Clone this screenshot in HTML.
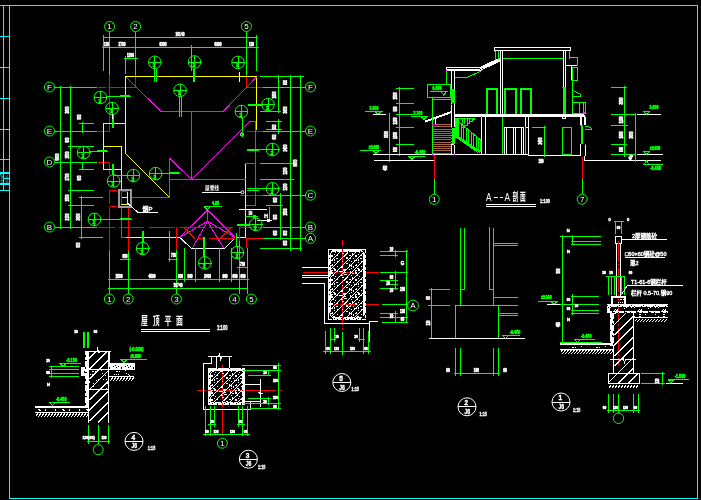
<!DOCTYPE html>
<html><head><meta charset="utf-8"><title>CAD</title>
<style>
html,body{margin:0;padding:0;background:#000;}
svg{display:block;will-change:transform;}
text{font-family:"Liberation Sans","Noto Sans CJK SC",sans-serif;}
</style></head><body>
<svg width="701" height="500" viewBox="0 0 701 500" shape-rendering="crispEdges" fill="none">
<rect x="0" y="0" width="701" height="500" fill="#000" stroke="none"/>
<path d="M0.0 5.5H698.0" stroke="#00ffff" stroke-width="1"/>
<path d="M9.0 498.5H698.0" stroke="#00ffff" stroke-width="1"/>
<path d="M697.5 5.0V499.0" stroke="#00ffff" stroke-width="1"/>
<path d="M9.5 5.0V499.0" stroke="#00ffff" stroke-width="1"/>
<path d="M3.5 5.0V191.0" stroke="#00ffff" stroke-width="1"/>
<path d="M0.0 36.5H10.0" stroke="#00ffff" stroke-width="1"/>
<path d="M0.0 67.5H10.0" stroke="#00ffff" stroke-width="1"/>
<path d="M0.0 98.5H10.0" stroke="#00ffff" stroke-width="1"/>
<path d="M0.0 129.5H10.0" stroke="#00ffff" stroke-width="1"/>
<path d="M0.0 159.5H10.0" stroke="#00ffff" stroke-width="1"/>
<path d="M0.0 190.5H10.0" stroke="#00ffff" stroke-width="1"/>
<path d="M0.0 173H9.0" stroke="#00ffff" stroke-width="2"/>
<path d="M3.0 178.5H9.0" stroke="#00ffff" stroke-width="1"/>
<path d="M0.0 184H9.0" stroke="#00ffff" stroke-width="2"/>
<rect x="5.5" y="172.0" width="2.0" height="2.0" stroke="#00ffff" stroke-width="0" fill="#00ffff"/>
<rect x="0.0" y="173.0" width="1.0" height="2.0" stroke="#00ffff" stroke-width="0" fill="#00ffff"/>
<text transform="translate(8 183) rotate(-90) scale(1 0.5)" font-size="4" fill="#00ffff">图纸</text>
<text transform="translate(2.5 183) rotate(-90) scale(1 0.5)" font-size="4" fill="#00ffff">建施</text>
<circle cx="109.6" cy="26.5" r="5" stroke="#00ff00" stroke-width="1" fill="none" shape-rendering="geometricPrecision"/>
<text x="109.6" y="29.4" font-size="8" fill="#ffffff" text-anchor="middle" font-weight="normal">1</text>
<circle cx="135.6" cy="26.5" r="5" stroke="#00ff00" stroke-width="1" fill="none" shape-rendering="geometricPrecision"/>
<text x="135.6" y="29.4" font-size="8" fill="#ffffff" text-anchor="middle" font-weight="normal">2</text>
<circle cx="246.4" cy="26.5" r="5" stroke="#00ff00" stroke-width="1" fill="none" shape-rendering="geometricPrecision"/>
<text x="246.4" y="29.4" font-size="8" fill="#ffffff" text-anchor="middle" font-weight="normal">5</text>
<circle cx="49.5" cy="87.0" r="5" stroke="#00ff00" stroke-width="1" fill="none" shape-rendering="geometricPrecision"/>
<text x="49.5" y="89.9" font-size="8" fill="#ffffff" text-anchor="middle" font-weight="normal">F</text>
<circle cx="49.5" cy="131.0" r="5" stroke="#00ff00" stroke-width="1" fill="none" shape-rendering="geometricPrecision"/>
<text x="49.5" y="133.9" font-size="8" fill="#ffffff" text-anchor="middle" font-weight="normal">E</text>
<circle cx="49.5" cy="162.0" r="5" stroke="#00ff00" stroke-width="1" fill="none" shape-rendering="geometricPrecision"/>
<text x="49.5" y="164.9" font-size="8" fill="#ffffff" text-anchor="middle" font-weight="normal">D</text>
<circle cx="49.5" cy="227.0" r="5" stroke="#00ff00" stroke-width="1" fill="none" shape-rendering="geometricPrecision"/>
<text x="49.5" y="229.9" font-size="8" fill="#ffffff" text-anchor="middle" font-weight="normal">B</text>
<circle cx="310.5" cy="87.0" r="5" stroke="#00ff00" stroke-width="1" fill="none" shape-rendering="geometricPrecision"/>
<text x="310.5" y="89.9" font-size="8" fill="#ffffff" text-anchor="middle" font-weight="normal">F</text>
<circle cx="310.5" cy="131.0" r="5" stroke="#00ff00" stroke-width="1" fill="none" shape-rendering="geometricPrecision"/>
<text x="310.5" y="133.9" font-size="8" fill="#ffffff" text-anchor="middle" font-weight="normal">E</text>
<circle cx="310.5" cy="195.2" r="5" stroke="#00ff00" stroke-width="1" fill="none" shape-rendering="geometricPrecision"/>
<text x="310.5" y="198.1" font-size="8" fill="#ffffff" text-anchor="middle" font-weight="normal">C</text>
<circle cx="310.5" cy="227.0" r="5" stroke="#00ff00" stroke-width="1" fill="none" shape-rendering="geometricPrecision"/>
<text x="310.5" y="229.9" font-size="8" fill="#ffffff" text-anchor="middle" font-weight="normal">B</text>
<circle cx="310.5" cy="238.3" r="5" stroke="#00ff00" stroke-width="1" fill="none" shape-rendering="geometricPrecision"/>
<text x="310.5" y="241.2" font-size="8" fill="#ffffff" text-anchor="middle" font-weight="normal">A</text>
<circle cx="109.4" cy="299.0" r="5" stroke="#00ff00" stroke-width="1" fill="none" shape-rendering="geometricPrecision"/>
<text x="109.4" y="301.9" font-size="8" fill="#ffffff" text-anchor="middle" font-weight="normal">1</text>
<circle cx="128.2" cy="299.0" r="5" stroke="#00ff00" stroke-width="1" fill="none" shape-rendering="geometricPrecision"/>
<text x="128.2" y="301.9" font-size="8" fill="#ffffff" text-anchor="middle" font-weight="normal">2</text>
<circle cx="176.4" cy="299.0" r="5" stroke="#00ff00" stroke-width="1" fill="none" shape-rendering="geometricPrecision"/>
<text x="176.4" y="301.9" font-size="8" fill="#ffffff" text-anchor="middle" font-weight="normal">3</text>
<circle cx="234.4" cy="299.0" r="5" stroke="#00ff00" stroke-width="1" fill="none" shape-rendering="geometricPrecision"/>
<text x="234.4" y="301.9" font-size="8" fill="#ffffff" text-anchor="middle" font-weight="normal">4</text>
<circle cx="251.4" cy="299.0" r="5" stroke="#00ff00" stroke-width="1" fill="none" shape-rendering="geometricPrecision"/>
<text x="251.4" y="301.9" font-size="8" fill="#ffffff" text-anchor="middle" font-weight="normal">5</text>
<path d="M103.0 37.5H258.0" stroke="#00ff00" stroke-width="1"/>
<path d="M101.6 47.5H259.0" stroke="#00ff00" stroke-width="1"/>
<path d="M103.5 35.0V71.0" stroke="#00ff00" stroke-width="1"/>
<path d="M256.5 35.0V71.0" stroke="#00ff00" stroke-width="1"/>
<path d="M109.5 31.5V75.0" stroke="#00ff00" stroke-width="1"/>
<path d="M135.5 31.5V75.0" stroke="#00ff00" stroke-width="1"/>
<path d="M246.5 31.5V75.0" stroke="#00ff00" stroke-width="1"/>
<path d="M124.4 58.5H138.0" stroke="#00ff00" stroke-width="1"/>
<path d="M125.5 56.0V73.5" stroke="#00ff00" stroke-width="1"/>
<path d="M191.5 45.0V71.0" stroke="#00ff00" stroke-width="1"/>
<text x="180.0" y="36.0" font-size="5" fill="#ffffff" stroke="#ffffff" stroke-width="0.6" text-anchor="middle" font-weight="bold" textLength="8.8" lengthAdjust="spacingAndGlyphs">16140</text>
<text x="106.5" y="46.0" font-size="4.5" fill="#ffffff" stroke="#ffffff" stroke-width="0.6" text-anchor="middle" font-weight="bold" textLength="5.2" lengthAdjust="spacingAndGlyphs">120</text>
<text x="122.0" y="46.0" font-size="5" fill="#ffffff" stroke="#ffffff" stroke-width="0.6" text-anchor="middle" font-weight="bold" textLength="7.0" lengthAdjust="spacingAndGlyphs">2700</text>
<text x="163.0" y="46.0" font-size="5" fill="#ffffff" stroke="#ffffff" stroke-width="0.6" text-anchor="middle" font-weight="bold" textLength="7.0" lengthAdjust="spacingAndGlyphs">6300</text>
<text x="218.0" y="46.0" font-size="5" fill="#ffffff" stroke="#ffffff" stroke-width="0.6" text-anchor="middle" font-weight="bold" textLength="7.0" lengthAdjust="spacingAndGlyphs">6900</text>
<text x="251.5" y="46.0" font-size="4.5" fill="#ffffff" stroke="#ffffff" stroke-width="0.6" text-anchor="middle" font-weight="bold" textLength="5.2" lengthAdjust="spacingAndGlyphs">120</text>
<text x="130.5" y="57.0" font-size="4.5" fill="#ffffff" stroke="#ffffff" stroke-width="0.6" text-anchor="middle" font-weight="bold" textLength="7.0" lengthAdjust="spacingAndGlyphs">1200</text>
<path d="M109.5 75.0V132.0" stroke="#ff0000" stroke-width="1"/>
<path d="M135.5 75.0V87.0" stroke="#ff0000" stroke-width="1"/>
<path d="M246.5 75.0V87.0" stroke="#ff0000" stroke-width="1"/>
<path d="M98.0 87.5H106.0" stroke="#ff0000" stroke-width="1"/>
<path d="M108.0 87.5H136.0" stroke="#ff0000" stroke-width="1"/>
<path d="M246.4 87.5H263.0" stroke="#ff0000" stroke-width="1"/>
<path d="M98.0 131.5H110.0" stroke="#ff0000" stroke-width="1"/>
<path d="M98.0 162.5H110.0" stroke="#ff0000" stroke-width="1"/>
<path d="M109.5 162.0V175.0" stroke="#ff0000" stroke-width="1"/>
<path d="M109.5 190.0V204.0" stroke="#ff0000" stroke-width="1"/>
<path d="M109.5 207.0V250.5" stroke="#ff0000" stroke-width="1"/>
<path d="M109.6 190.5H117.0" stroke="#ff0000" stroke-width="1"/>
<path d="M109.6 206.5H117.0" stroke="#ff0000" stroke-width="1"/>
<path d="M128.5 208.0V250.5" stroke="#ff0000" stroke-width="1"/>
<path d="M247.0 131.5H263.0" stroke="#ff0000" stroke-width="1"/>
<path d="M240.0 195.5H263.0" stroke="#ff0000" stroke-width="1"/>
<path d="M54.5 87.5H97.0" stroke="#00ff00" stroke-width="1"/>
<path d="M54.5 131.5H97.0" stroke="#00ff00" stroke-width="1"/>
<path d="M54.5 162.5H97.0" stroke="#00ff00" stroke-width="1"/>
<path d="M54.5 227.5H97.0" stroke="#00ff00" stroke-width="1"/>
<path d="M60.5 86.0V228.5" stroke="#00ff00" stroke-width="1"/>
<path d="M70.5 86.0V228.5" stroke="#00ff00" stroke-width="1"/>
<path d="M79.0 123.5H94.0" stroke="#00ff00" stroke-width="1"/>
<path d="M82.5 122.0V133.0" stroke="#00ff00" stroke-width="1"/>
<path d="M68.0 146.5H94.0" stroke="#00ff00" stroke-width="1"/>
<path d="M79.0 169.5H94.0" stroke="#00ff00" stroke-width="1"/>
<path d="M82.5 163.0V170.0" stroke="#00ff00" stroke-width="1"/>
<path d="M68.0 190.5H94.0" stroke="#00ff00" stroke-width="1"/>
<path d="M68.0 205.5H94.0" stroke="#00ff00" stroke-width="1"/>
<path d="M81.5 196.0V239.0" stroke="#00ff00" stroke-width="1"/>
<path d="M79.0 197.5H103.0" stroke="#00ff00" stroke-width="1"/>
<path d="M79.0 237.5H103.0" stroke="#00ff00" stroke-width="1"/>
<path d="M90.0 237.5H103.0" stroke="#00ff00" stroke-width="1"/>
<text x="68.5" y="110.0" font-size="5" fill="#ffffff" stroke="#ffffff" stroke-width="0.6" text-anchor="middle" font-weight="bold" textLength="7.0" lengthAdjust="spacingAndGlyphs" transform="rotate(-90 68.5 110.0)">3600</text>
<text x="80.5" y="117.0" font-size="5" fill="#ffffff" stroke="#ffffff" stroke-width="0.6" text-anchor="middle" font-weight="bold" textLength="5.2" lengthAdjust="spacingAndGlyphs" transform="rotate(-90 80.5 117.0)">900</text>
<text x="68.5" y="140.0" font-size="5" fill="#ffffff" stroke="#ffffff" stroke-width="0.6" text-anchor="middle" font-weight="bold" textLength="5.2" lengthAdjust="spacingAndGlyphs" transform="rotate(-90 68.5 140.0)">900</text>
<text x="68.5" y="155.0" font-size="5" fill="#ffffff" stroke="#ffffff" stroke-width="0.6" text-anchor="middle" font-weight="bold" textLength="7.0" lengthAdjust="spacingAndGlyphs" transform="rotate(-90 68.5 155.0)">1500</text>
<text x="58.5" y="157.0" font-size="5" fill="#ffffff" stroke="#ffffff" stroke-width="0.6" text-anchor="middle" font-weight="bold" textLength="7.0" lengthAdjust="spacingAndGlyphs" transform="rotate(-90 58.5 157.0)">9900</text>
<text x="68.5" y="177.0" font-size="5" fill="#ffffff" stroke="#ffffff" stroke-width="0.6" text-anchor="middle" font-weight="bold" textLength="7.0" lengthAdjust="spacingAndGlyphs" transform="rotate(-90 68.5 177.0)">2700</text>
<text x="80.5" y="178.0" font-size="5" fill="#ffffff" stroke="#ffffff" stroke-width="0.6" text-anchor="middle" font-weight="bold" textLength="5.2" lengthAdjust="spacingAndGlyphs" transform="rotate(-90 80.5 178.0)">600</text>
<text x="68.5" y="198.0" font-size="5" fill="#ffffff" stroke="#ffffff" stroke-width="0.6" text-anchor="middle" font-weight="bold" textLength="7.0" lengthAdjust="spacingAndGlyphs" transform="rotate(-90 68.5 198.0)">1500</text>
<text x="68.5" y="217.0" font-size="5" fill="#ffffff" stroke="#ffffff" stroke-width="0.6" text-anchor="middle" font-weight="bold" textLength="7.0" lengthAdjust="spacingAndGlyphs" transform="rotate(-90 68.5 217.0)">2100</text>
<text x="79.5" y="217.0" font-size="5" fill="#ffffff" stroke="#ffffff" stroke-width="0.6" text-anchor="middle" font-weight="bold" textLength="7.0" lengthAdjust="spacingAndGlyphs" transform="rotate(-90 79.5 217.0)">3600</text>
<text x="79.5" y="245.0" font-size="5" fill="#ffffff" stroke="#ffffff" stroke-width="0.6" text-anchor="middle" font-weight="bold" textLength="5.2" lengthAdjust="spacingAndGlyphs" transform="rotate(-90 79.5 245.0)">900</text>
<path d="M125.6 76.5H257.0" stroke="#ffff00" stroke-width="1"/>
<path d="M125.5 76.0V154.0" stroke="#ffff00" stroke-width="1"/>
<path d="M256.5 76.0V130.0" stroke="#ffff00" stroke-width="1"/>
<path d="M103.6 123.5H126.0" stroke="#ffff00" stroke-width="1"/>
<path d="M103.5 123.0V169.5" stroke="#ffff00" stroke-width="1"/>
<path d="M103.6 146.5H122.0" stroke="#ffff00" stroke-width="1"/>
<path d="M121.5 146.0V191.0" stroke="#ffff00" stroke-width="1"/>
<path d="M103.6 169.5H122.0" stroke="#ffff00" stroke-width="1"/>
<path d="M125.6 153.6L169.4 197.4" stroke="#ffff00" stroke-width="1"/>
<path d="M245.5 163.6V238.0" stroke="#ffff00" stroke-width="1"/>
<path d="M121.4 237.5H180.0" stroke="#ffff00" stroke-width="1"/>
<path d="M236.0 237.5H246.0" stroke="#ffff00" stroke-width="1"/>
<path d="M126.0 77.0L161.0 111.5" stroke="#ff00ff" stroke-width="1"/>
<path d="M161.0 111.5H223.0" stroke="#ff00ff" stroke-width="1"/>
<path d="M223.0 111.5L256.6 77.0" stroke="#ff00ff" stroke-width="1"/>
<path d="M191.5 111.0V179.5" stroke="#ff00ff" stroke-width="1"/>
<path d="M191.4 179.5L249.4 121.5" stroke="#ff00ff" stroke-width="1"/>
<path d="M249.4 121.5H256.0" stroke="#ff00ff" stroke-width="1"/>
<path d="M255.5 121.0V206.0" stroke="#ff00ff" stroke-width="1"/>
<path d="M245.4 163.5H256.0" stroke="#ff00ff" stroke-width="1"/>
<path d="M169.4 179.5H245.6" stroke="#ff00ff" stroke-width="1"/>
<path d="M169.5 158.0V198.0" stroke="#ff00ff" stroke-width="1"/>
<path d="M169.4 158.0L191.4 179.5" stroke="#ff00ff" stroke-width="1"/>
<path d="M131.0 197.5H170.0" stroke="#ff00ff" stroke-width="1"/>
<path d="M245.6 205.5H256.0" stroke="#ff00ff" stroke-width="1"/>
<path d="M121.5 207.0V238.0" stroke="#ff00ff" stroke-width="1"/>
<path d="M121.6 237.5H126.0" stroke="#ff00ff" stroke-width="1"/>
<path d="M207.5 210.0L179.7 237.5" stroke="#ff00ff" stroke-width="1"/>
<path d="M207.5 210.0L235.2 237.5" stroke="#ff00ff" stroke-width="1"/>
<path d="M207.5 210.0V221.5" stroke="#ff00ff" stroke-width="1"/>
<path d="M207.5 221.3L192.2 248.3" stroke="#ff00ff" stroke-width="1"/>
<path d="M207.5 221.3L223.8 248.3" stroke="#ff00ff" stroke-width="1"/>
<path d="M207.5 221.3L179.7 237.5" stroke="#ff00ff" stroke-width="1"/>
<path d="M207.5 221.3L235.2 237.5" stroke="#ff00ff" stroke-width="1"/>
<path d="M179.7 237.5L191.7 248.5L224.8 248.5L235.2 237.5" stroke="#ffffff" stroke-width="1" fill="none"/>
<path d="M204.2 206.5L210.5 206.5L207.4 210.0Z" stroke="#00ff00" stroke-width="1" fill="none"/>
<path d="M204.2 206.5H222.0" stroke="#00ff00" stroke-width="1"/>
<text x="215.5" y="204.8" font-size="5" fill="#00ff00" stroke="#00ff00" stroke-width="0.6" text-anchor="middle" font-weight="bold" textLength="7.0" lengthAdjust="spacingAndGlyphs">4.95</text>
<path d="M98.0 227.5H115.0" stroke="#ff0000" stroke-width="1"/>
<path d="M119.0 227.5H144.0" stroke="#ff0000" stroke-width="1"/>
<path d="M149.0 227.5H174.5" stroke="#ff0000" stroke-width="1"/>
<path d="M179.0 227.5H204.0" stroke="#ff0000" stroke-width="1"/>
<path d="M208.8 227.5H232.8" stroke="#ff0000" stroke-width="1"/>
<path d="M238.5 227.5H263.0" stroke="#ff0000" stroke-width="1"/>
<path d="M197.4 238.5H203.0" stroke="#ff0000" stroke-width="1"/>
<path d="M208.8 238.5H235.0" stroke="#ff0000" stroke-width="1"/>
<path d="M246.0 238.5H263.0" stroke="#ff0000" stroke-width="1"/>
<path d="M184.0 227.5L195.0 238.5" stroke="#ff0000" stroke-width="1"/>
<path d="M231.0 227.5L220.0 238.5" stroke="#ff0000" stroke-width="1"/>
<path d="M176.5 227.0V250.0" stroke="#ff0000" stroke-width="1"/>
<path d="M239.5 227.0V248.0" stroke="#ff0000" stroke-width="1"/>
<path d="M246.5 238.0V248.0" stroke="#ff0000" stroke-width="1"/>
<rect x="118.5" y="189.5" width="12.5" height="17.5" stroke="#9a9a9a" stroke-width="2" fill="none"/>
<rect x="121.5" y="191.5" width="6.0" height="12.5" stroke="#ffff00" stroke-width="1" fill="none"/>
<path d="M121.5 197.5H127.5" stroke="#ffff00" stroke-width="1"/>
<path d="M121.5 191.0V204.0" stroke="#ff0000" stroke-width="1"/>
<path d="M121.5 191.5H127.5" stroke="#ff0000" stroke-width="1"/>
<path d="M127.4 203.0L138.0 212.5L158.0 212.5" stroke="#ffffff" stroke-width="1" fill="none"/>
<text x="147.5" y="211.0" font-size="6" fill="#ffffff" stroke="#ffffff" stroke-width="0.4" text-anchor="middle" font-weight="normal">烟P</text>
<text transform="translate(205.0 190.0) scale(0.78 1)" font-size="6" fill="#ffffff" font-weight="bold">屋脊线</text>
<path d="M202.4 192.5H241.0" stroke="#ffffff" stroke-width="1"/>
<circle cx="242.4" cy="192.3" r="1.5" stroke="#ffffff" stroke-width="1" fill="none" shape-rendering="geometricPrecision"/>
<circle cx="242.0" cy="134.5" r="1.5" stroke="#ffffff" stroke-width="1" fill="none" shape-rendering="geometricPrecision"/>
<path d="M260.0 76.5H304.0" stroke="#00ff00" stroke-width="1"/>
<path d="M278.5 75.0V113.0" stroke="#00ff00" stroke-width="1"/>
<path d="M290.5 75.0V250.5" stroke="#00ff00" stroke-width="1"/>
<path d="M300.5 75.0V250.5" stroke="#00ff00" stroke-width="1"/>
<path d="M263.0 87.5H305.5" stroke="#00ff00" stroke-width="1"/>
<path d="M263.0 131.5H305.5" stroke="#00ff00" stroke-width="1"/>
<path d="M263.0 195.5H305.5" stroke="#00ff00" stroke-width="1"/>
<path d="M263.0 227.5H305.5" stroke="#00ff00" stroke-width="1"/>
<path d="M263.0 238.5H305.5" stroke="#00ff00" stroke-width="1"/>
<path d="M260.0 111.5H281.0" stroke="#00ff00" stroke-width="1"/>
<path d="M266.0 121.5H282.0" stroke="#00ff00" stroke-width="1"/>
<path d="M278.5 119.0V134.0" stroke="#00ff00" stroke-width="1"/>
<path d="M266.0 129.5H282.0" stroke="#00ff00" stroke-width="1"/>
<path d="M260.0 163.5H294.0" stroke="#00ff00" stroke-width="1"/>
<path d="M260.0 179.5H294.0" stroke="#00ff00" stroke-width="1"/>
<path d="M280.5 193.0V240.0" stroke="#00ff00" stroke-width="1"/>
<path d="M266.0 205.5H283.0" stroke="#00ff00" stroke-width="1"/>
<path d="M260.0 248.5H302.0" stroke="#00ff00" stroke-width="1"/>
<path d="M269.5 207.0V222.0" stroke="#00ff00" stroke-width="1"/>
<path d="M239.0 209.5H267.0" stroke="#ffffff" stroke-width="1"/>
<path d="M244.5 216.5H257.0" stroke="#00ff00" stroke-width="1"/>
<path d="M257.0 216.5L253.0 215.0L253.0 218.0Z" stroke="#00ff00" stroke-width="1" fill="#00ff00"/>
<path d="M257.0 220.5H271.0" stroke="#ffffff" stroke-width="1"/>
<path d="M271.0 220.5L267.0 219.0L267.0 222.0Z" stroke="#ffffff" stroke-width="1" fill="#ffffff"/>
<text x="250.5" y="214.5" font-size="5" fill="#ffffff" stroke="#ffffff" stroke-width="0.6" text-anchor="middle" font-weight="bold" textLength="3.5" lengthAdjust="spacingAndGlyphs">DH</text>
<text x="266.0" y="218.0" font-size="5" fill="#ffffff" stroke="#ffffff" stroke-width="0.6" text-anchor="middle" font-weight="normal">H</text>
<text x="287.0" y="82.5" font-size="5" fill="#ffffff" stroke="#ffffff" stroke-width="0.6" text-anchor="middle" font-weight="bold" textLength="5.2" lengthAdjust="spacingAndGlyphs" transform="rotate(-90 287.0 82.5)">900</text>
<text x="275.5" y="95.0" font-size="5" fill="#ffffff" stroke="#ffffff" stroke-width="0.6" text-anchor="middle" font-weight="bold" textLength="7.0" lengthAdjust="spacingAndGlyphs" transform="rotate(-90 275.5 95.0)">1800</text>
<text x="287.0" y="110.0" font-size="5" fill="#ffffff" stroke="#ffffff" stroke-width="0.6" text-anchor="middle" font-weight="bold" textLength="7.0" lengthAdjust="spacingAndGlyphs" transform="rotate(-90 287.0 110.0)">3600</text>
<text x="275.5" y="127.0" font-size="5" fill="#ffffff" stroke="#ffffff" stroke-width="0.6" text-anchor="middle" font-weight="bold" textLength="5.2" lengthAdjust="spacingAndGlyphs" transform="rotate(-90 275.5 127.0)">900</text>
<text x="275.5" y="137.0" font-size="5" fill="#ffffff" stroke="#ffffff" stroke-width="0.6" text-anchor="middle" font-weight="bold" textLength="5.2" lengthAdjust="spacingAndGlyphs" transform="rotate(-90 275.5 137.0)">600</text>
<text x="287.0" y="148.0" font-size="5" fill="#ffffff" stroke="#ffffff" stroke-width="0.6" text-anchor="middle" font-weight="bold" textLength="7.0" lengthAdjust="spacingAndGlyphs" transform="rotate(-90 287.0 148.0)">2400</text>
<text x="297.0" y="163.0" font-size="5" fill="#ffffff" stroke="#ffffff" stroke-width="0.6" text-anchor="middle" font-weight="bold" textLength="7.0" lengthAdjust="spacingAndGlyphs" transform="rotate(-90 297.0 163.0)">9900</text>
<text x="287.0" y="171.0" font-size="5" fill="#ffffff" stroke="#ffffff" stroke-width="0.6" text-anchor="middle" font-weight="bold" textLength="7.0" lengthAdjust="spacingAndGlyphs" transform="rotate(-90 287.0 171.0)">1200</text>
<text x="287.0" y="187.0" font-size="5" fill="#ffffff" stroke="#ffffff" stroke-width="0.6" text-anchor="middle" font-weight="bold" textLength="7.0" lengthAdjust="spacingAndGlyphs" transform="rotate(-90 287.0 187.0)">1200</text>
<text x="277.0" y="200.0" font-size="5" fill="#ffffff" stroke="#ffffff" stroke-width="0.6" text-anchor="middle" font-weight="bold" textLength="5.2" lengthAdjust="spacingAndGlyphs" transform="rotate(-90 277.0 200.0)">600</text>
<text x="287.0" y="212.0" font-size="5" fill="#ffffff" stroke="#ffffff" stroke-width="0.6" text-anchor="middle" font-weight="bold" textLength="7.0" lengthAdjust="spacingAndGlyphs" transform="rotate(-90 287.0 212.0)">1500</text>
<text x="277.0" y="217.0" font-size="5" fill="#ffffff" stroke="#ffffff" stroke-width="0.6" text-anchor="middle" font-weight="bold" textLength="5.2" lengthAdjust="spacingAndGlyphs" transform="rotate(-90 277.0 217.0)">900</text>
<text x="277.0" y="233.0" font-size="5" fill="#ffffff" stroke="#ffffff" stroke-width="0.6" text-anchor="middle" font-weight="bold" textLength="5.2" lengthAdjust="spacingAndGlyphs" transform="rotate(-90 277.0 233.0)">600</text>
<text x="287.0" y="233.0" font-size="5" fill="#ffffff" stroke="#ffffff" stroke-width="0.6" text-anchor="middle" font-weight="bold" textLength="5.2" lengthAdjust="spacingAndGlyphs" transform="rotate(-90 287.0 233.0)">900</text>
<text x="287.0" y="243.0" font-size="5" fill="#ffffff" stroke="#ffffff" stroke-width="0.6" text-anchor="middle" font-weight="bold" textLength="5.2" lengthAdjust="spacingAndGlyphs" transform="rotate(-90 287.0 243.0)">600</text>
<path d="M108.4 279.5H249.0" stroke="#00ff00" stroke-width="1"/>
<path d="M108.4 288.5H248.0" stroke="#00ff00" stroke-width="1"/>
<path d="M109.5 250.5V294.0" stroke="#00ff00" stroke-width="1"/>
<path d="M128.5 250.5V294.0" stroke="#00ff00" stroke-width="1"/>
<path d="M176.5 250.0V294.0" stroke="#00ff00" stroke-width="1"/>
<path d="M239.5 241.0V294.0" stroke="#00ff00" stroke-width="1"/>
<path d="M247.5 248.0V294.0" stroke="#00ff00" stroke-width="1"/>
<path d="M184.5 248.0V282.0" stroke="#00ff00" stroke-width="1"/>
<path d="M195.5 248.0V282.0" stroke="#00ff00" stroke-width="1"/>
<path d="M219.5 248.0V282.0" stroke="#00ff00" stroke-width="1"/>
<path d="M231.5 248.0V282.0" stroke="#00ff00" stroke-width="1"/>
<path d="M120.0 259.5H131.0" stroke="#00ff00" stroke-width="1"/>
<path d="M168.0 259.5H178.0" stroke="#00ff00" stroke-width="1"/>
<path d="M169.5 231.0V262.0" stroke="#00ff00" stroke-width="1"/>
<path d="M237.0 267.5H248.0" stroke="#00ff00" stroke-width="1"/>
<text x="119.0" y="277.5" font-size="4.5" fill="#ffffff" stroke="#ffffff" stroke-width="0.6" text-anchor="middle" font-weight="bold" textLength="7.0" lengthAdjust="spacingAndGlyphs">1500</text>
<text x="152.0" y="277.5" font-size="4.5" fill="#ffffff" stroke="#ffffff" stroke-width="0.6" text-anchor="middle" font-weight="bold" textLength="7.0" lengthAdjust="spacingAndGlyphs">4500</text>
<text x="180.5" y="277.5" font-size="4.5" fill="#ffffff" stroke="#ffffff" stroke-width="0.6" text-anchor="middle" font-weight="bold" textLength="5.2" lengthAdjust="spacingAndGlyphs">600</text>
<text x="190.0" y="277.5" font-size="4.5" fill="#ffffff" stroke="#ffffff" stroke-width="0.6" text-anchor="middle" font-weight="bold" textLength="5.2" lengthAdjust="spacingAndGlyphs">900</text>
<text x="207.5" y="277.5" font-size="4.5" fill="#ffffff" stroke="#ffffff" stroke-width="0.6" text-anchor="middle" font-weight="bold" textLength="7.0" lengthAdjust="spacingAndGlyphs">2400</text>
<text x="225.0" y="277.5" font-size="4.5" fill="#ffffff" stroke="#ffffff" stroke-width="0.6" text-anchor="middle" font-weight="bold" textLength="5.2" lengthAdjust="spacingAndGlyphs">900</text>
<text x="235.0" y="277.5" font-size="4.5" fill="#ffffff" stroke="#ffffff" stroke-width="0.6" text-anchor="middle" font-weight="bold" textLength="5.2" lengthAdjust="spacingAndGlyphs">600</text>
<text x="243.0" y="277.5" font-size="4.5" fill="#ffffff" stroke="#ffffff" stroke-width="0.6" text-anchor="middle" font-weight="bold" textLength="5.2" lengthAdjust="spacingAndGlyphs">600</text>
<text x="178.0" y="287.0" font-size="5" fill="#ffffff" stroke="#ffffff" stroke-width="0.6" text-anchor="middle" font-weight="bold" textLength="8.8" lengthAdjust="spacingAndGlyphs">10740</text>
<text x="125.0" y="257.5" font-size="5" fill="#ffffff" stroke="#ffffff" stroke-width="0.6" text-anchor="middle" font-weight="bold" textLength="5.2" lengthAdjust="spacingAndGlyphs">600</text>
<text x="173.5" y="257.0" font-size="5" fill="#ffffff" stroke="#ffffff" stroke-width="0.6" text-anchor="middle" font-weight="bold" textLength="5.2" lengthAdjust="spacingAndGlyphs">750</text>
<text x="242.5" y="265.5" font-size="5" fill="#ffffff" stroke="#ffffff" stroke-width="0.6" text-anchor="middle" font-weight="bold" textLength="5.2" lengthAdjust="spacingAndGlyphs">750</text>
<circle cx="154.8" cy="62.3" r="6.3" stroke="#00ff00" stroke-width="1" fill="none" shape-rendering="geometricPrecision"/>
<path d="M148.5 62.5H161.8" stroke="#00ff00" stroke-width="1"/>
<path d="M154.5 56.0V68.6" stroke="#00ff00" stroke-width="1"/>
<text x="154.2" y="67.3" font-size="5" fill="#00ff00" stroke="#00ff00" stroke-width="0.6" text-anchor="middle" font-weight="bold">2</text>
<circle cx="194.5" cy="62.0" r="6.3" stroke="#00ff00" stroke-width="1" fill="none" shape-rendering="geometricPrecision"/>
<path d="M188.2 62.5H201.5" stroke="#00ff00" stroke-width="1"/>
<path d="M194.5 55.7V68.3" stroke="#00ff00" stroke-width="1"/>
<text x="193.9" y="67.0" font-size="5" fill="#00ff00" stroke="#00ff00" stroke-width="0.6" text-anchor="middle" font-weight="bold">2</text>
<circle cx="238.0" cy="62.4" r="6.3" stroke="#00ff00" stroke-width="1" fill="none" shape-rendering="geometricPrecision"/>
<path d="M231.7 62.5H245.0" stroke="#00ff00" stroke-width="1"/>
<path d="M238.5 56.1V68.7" stroke="#00ff00" stroke-width="1"/>
<text x="237.4" y="67.4" font-size="5" fill="#00ff00" stroke="#00ff00" stroke-width="0.6" text-anchor="middle" font-weight="bold">2</text>
<circle cx="180.0" cy="90.3" r="6.3" stroke="#00ff00" stroke-width="1" fill="none" shape-rendering="geometricPrecision"/>
<path d="M173.7 90.5H187.0" stroke="#00ff00" stroke-width="1"/>
<path d="M180.5 84.0V96.6" stroke="#00ff00" stroke-width="1"/>
<text x="179.4" y="95.3" font-size="5" fill="#00ff00" stroke="#00ff00" stroke-width="0.6" text-anchor="middle" font-weight="bold">2</text>
<circle cx="100.4" cy="97.5" r="6.3" stroke="#00ff00" stroke-width="1" fill="none" shape-rendering="geometricPrecision"/>
<path d="M94.1 97.5H107.4" stroke="#00ff00" stroke-width="1"/>
<path d="M100.5 91.2V103.8" stroke="#00ff00" stroke-width="1"/>
<text x="99.8" y="102.5" font-size="5" fill="#00ff00" stroke="#00ff00" stroke-width="0.6" text-anchor="middle" font-weight="bold">2</text>
<circle cx="112.0" cy="108.4" r="6.3" stroke="#00ff00" stroke-width="1" fill="none" shape-rendering="geometricPrecision"/>
<path d="M105.7 108.5H119.0" stroke="#00ff00" stroke-width="1"/>
<path d="M112.5 102.1V114.7" stroke="#00ff00" stroke-width="1"/>
<text x="111.4" y="113.4" font-size="5" fill="#00ff00" stroke="#00ff00" stroke-width="0.6" text-anchor="middle" font-weight="bold">2</text>
<circle cx="268.0" cy="104.6" r="6.3" stroke="#00ff00" stroke-width="1" fill="none" shape-rendering="geometricPrecision"/>
<path d="M261.7 104.5H275.0" stroke="#00ff00" stroke-width="1"/>
<path d="M268.5 98.3V110.9" stroke="#00ff00" stroke-width="1"/>
<text x="267.4" y="109.6" font-size="5" fill="#00ff00" stroke="#00ff00" stroke-width="0.6" text-anchor="middle" font-weight="bold">2</text>
<circle cx="241.4" cy="111.5" r="6.3" stroke="#00ff00" stroke-width="1" fill="none" shape-rendering="geometricPrecision"/>
<path d="M235.1 111.5H248.4" stroke="#00ff00" stroke-width="1"/>
<path d="M241.5 105.2V117.8" stroke="#00ff00" stroke-width="1"/>
<text x="240.8" y="116.5" font-size="5" fill="#00ff00" stroke="#00ff00" stroke-width="0.6" text-anchor="middle" font-weight="bold">2</text>
<circle cx="83.6" cy="152.6" r="6.3" stroke="#00ff00" stroke-width="1" fill="none" shape-rendering="geometricPrecision"/>
<path d="M77.3 152.5H90.6" stroke="#00ff00" stroke-width="1"/>
<path d="M83.5 146.3V158.9" stroke="#00ff00" stroke-width="1"/>
<text x="83.0" y="157.6" font-size="5" fill="#00ff00" stroke="#00ff00" stroke-width="0.6" text-anchor="middle" font-weight="bold">2</text>
<circle cx="113.6" cy="181.0" r="6.3" stroke="#00ff00" stroke-width="1" fill="none" shape-rendering="geometricPrecision"/>
<path d="M107.3 181.5H120.6" stroke="#00ff00" stroke-width="1"/>
<path d="M113.5 174.7V187.3" stroke="#00ff00" stroke-width="1"/>
<text x="113.0" y="186.0" font-size="5" fill="#00ff00" stroke="#00ff00" stroke-width="0.6" text-anchor="middle" font-weight="bold">2</text>
<circle cx="133.4" cy="175.6" r="6.3" stroke="#00ff00" stroke-width="1" fill="none" shape-rendering="geometricPrecision"/>
<path d="M127.1 175.5H140.4" stroke="#00ff00" stroke-width="1"/>
<path d="M133.5 169.3V181.9" stroke="#00ff00" stroke-width="1"/>
<text x="132.8" y="180.6" font-size="5" fill="#00ff00" stroke="#00ff00" stroke-width="0.6" text-anchor="middle" font-weight="bold">2</text>
<circle cx="155.6" cy="173.6" r="6.3" stroke="#00ff00" stroke-width="1" fill="none" shape-rendering="geometricPrecision"/>
<path d="M149.3 173.5H162.6" stroke="#00ff00" stroke-width="1"/>
<path d="M155.5 167.3V179.9" stroke="#00ff00" stroke-width="1"/>
<text x="155.0" y="178.6" font-size="5" fill="#00ff00" stroke="#00ff00" stroke-width="0.6" text-anchor="middle" font-weight="bold">2</text>
<circle cx="94.4" cy="219.4" r="6.3" stroke="#00ff00" stroke-width="1" fill="none" shape-rendering="geometricPrecision"/>
<path d="M88.1 219.5H101.4" stroke="#00ff00" stroke-width="1"/>
<path d="M94.5 213.1V225.7" stroke="#00ff00" stroke-width="1"/>
<text x="93.8" y="224.4" font-size="5" fill="#00ff00" stroke="#00ff00" stroke-width="0.6" text-anchor="middle" font-weight="bold">2</text>
<circle cx="142.6" cy="248.5" r="6.3" stroke="#00ff00" stroke-width="1" fill="none" shape-rendering="geometricPrecision"/>
<path d="M136.3 248.5H149.6" stroke="#00ff00" stroke-width="1"/>
<path d="M142.5 242.2V254.8" stroke="#00ff00" stroke-width="1"/>
<text x="142.0" y="253.5" font-size="5" fill="#00ff00" stroke="#00ff00" stroke-width="0.6" text-anchor="middle" font-weight="bold">2</text>
<circle cx="204.8" cy="263.0" r="6.3" stroke="#00ff00" stroke-width="1" fill="none" shape-rendering="geometricPrecision"/>
<path d="M198.5 263.5H211.8" stroke="#00ff00" stroke-width="1"/>
<path d="M204.5 256.7V269.3" stroke="#00ff00" stroke-width="1"/>
<text x="204.2" y="268.0" font-size="5" fill="#00ff00" stroke="#00ff00" stroke-width="0.6" text-anchor="middle" font-weight="bold">2</text>
<circle cx="237.4" cy="252.6" r="6.3" stroke="#00ff00" stroke-width="1" fill="none" shape-rendering="geometricPrecision"/>
<path d="M231.1 252.5H244.4" stroke="#00ff00" stroke-width="1"/>
<path d="M237.5 246.3V258.9" stroke="#00ff00" stroke-width="1"/>
<text x="236.8" y="257.6" font-size="5" fill="#00ff00" stroke="#00ff00" stroke-width="0.6" text-anchor="middle" font-weight="bold">2</text>
<circle cx="255.7" cy="224.5" r="6.3" stroke="#00ff00" stroke-width="1" fill="none" shape-rendering="geometricPrecision"/>
<path d="M249.4 224.5H262.7" stroke="#00ff00" stroke-width="1"/>
<path d="M255.5 218.2V230.8" stroke="#00ff00" stroke-width="1"/>
<text x="255.1" y="229.5" font-size="5" fill="#00ff00" stroke="#00ff00" stroke-width="0.6" text-anchor="middle" font-weight="bold">2</text>
<circle cx="272.5" cy="149.5" r="6.3" stroke="#00ff00" stroke-width="1" fill="none" shape-rendering="geometricPrecision"/>
<path d="M266.2 149.5H279.5" stroke="#00ff00" stroke-width="1"/>
<path d="M272.5 143.2V155.8" stroke="#00ff00" stroke-width="1"/>
<text x="271.9" y="154.5" font-size="5" fill="#00ff00" stroke="#00ff00" stroke-width="0.6" text-anchor="middle" font-weight="bold">2</text>
<circle cx="272.5" cy="188.8" r="6.3" stroke="#00ff00" stroke-width="1" fill="none" shape-rendering="geometricPrecision"/>
<path d="M266.2 188.5H279.5" stroke="#00ff00" stroke-width="1"/>
<path d="M272.5 182.5V195.1" stroke="#00ff00" stroke-width="1"/>
<text x="271.9" y="193.8" font-size="5" fill="#00ff00" stroke="#00ff00" stroke-width="0.6" text-anchor="middle" font-weight="bold">2</text>
<path d="M154.5 68.5V82.0" stroke="#00ff00" stroke-width="1"/>
<path d="M156.5 68.5V82.0" stroke="#00ff00" stroke-width="1"/>
<path d="M194 69.0V82.0" stroke="#00ff00" stroke-width="2"/>
<path d="M239.5 72.0V82.0" stroke="#ffffff" stroke-width="1"/>
<path d="M179.5 96.0V116.5" stroke="#00ff00" stroke-width="1"/>
<path d="M181.5 96.0V116.5" stroke="#00ff00" stroke-width="1"/>
<path d="M106.0 96.5H131.0" stroke="#00ff00" stroke-width="1"/>
<path d="M120.0 96H130.0" stroke="#00ff00" stroke-width="2"/>
<path d="M113 114.0V127.5" stroke="#00ff00" stroke-width="2"/>
<path d="M112.5 114.0V119.0" stroke="#ffffff" stroke-width="1"/>
<path d="M248.0 105H262.5" stroke="#00ff00" stroke-width="2"/>
<path d="M242.5 118.0V137.0" stroke="#00ff00" stroke-width="1"/>
<path d="M89.0 151.5H108.0" stroke="#00ff00" stroke-width="1"/>
<path d="M97.0 151H107.0" stroke="#00ff00" stroke-width="2"/>
<path d="M113 164.0V175.0" stroke="#00ff00" stroke-width="2"/>
<path d="M112.6 175.5H134.0" stroke="#00ff00" stroke-width="1"/>
<path d="M161.0 173.5H180.0" stroke="#00ff00" stroke-width="1"/>
<path d="M169.0 173H179.0" stroke="#00ff00" stroke-width="2"/>
<path d="M100.0 219.5H132.0" stroke="#00ff00" stroke-width="1"/>
<path d="M120.0 219H131.0" stroke="#00ff00" stroke-width="2"/>
<path d="M143 231.0V242.0" stroke="#00ff00" stroke-width="2"/>
<path d="M204 237.0V257.0" stroke="#00ff00" stroke-width="2"/>
<path d="M236.5 233.0V246.5" stroke="#00ff00" stroke-width="1"/>
<path d="M237.0 225H249.7" stroke="#00ff00" stroke-width="2"/>
<path d="M247.0 149.5H266.0" stroke="#00ff00" stroke-width="1"/>
<path d="M247.0 150H258.7" stroke="#00ff00" stroke-width="2"/>
<path d="M247.0 188.5H266.0" stroke="#00ff00" stroke-width="1"/>
<path d="M247.0 190.5H258.7" stroke="#00ff00" stroke-width="1"/>
<text transform="translate(141.0 325.0) scale(0.6 1)" font-size="11.5" fill="#ffffff" font-weight="bold">屋</text>
<text transform="translate(152.7 325.0) scale(0.6 1)" font-size="11.5" fill="#ffffff" font-weight="bold">顶</text>
<text transform="translate(164.4 325.0) scale(0.6 1)" font-size="11.5" fill="#ffffff" font-weight="bold">平</text>
<text transform="translate(176.1 325.0) scale(0.6 1)" font-size="11.5" fill="#ffffff" font-weight="bold">面</text>
<path d="M141.0 329.5H210.0" stroke="#ffffff" stroke-width="1"/>
<path d="M141.0 331.5H210.0" stroke="#ffffff" stroke-width="1"/>
<text x="222.2" y="330.0" font-size="7" fill="#ffffff" stroke="#ffffff" stroke-width="0.4" text-anchor="middle" font-weight="bold" textLength="10.5" lengthAdjust="spacingAndGlyphs">1:100</text>
<defs>
<pattern id="dots" width="24" height="24" patternUnits="userSpaceOnUse"><rect x="5.7" y="13.1" width="1" height="1" fill="#fff"/><rect x="8.9" y="14.5" width="1" height="1" fill="#fff"/><rect x="15.0" y="1.6" width="1" height="1" fill="#fff"/><rect x="0.3" y="20.1" width="1" height="1" fill="#fff"/><rect x="6.2" y="5.6" width="1" height="1" fill="#fff"/><rect x="23.9" y="11.3" width="1" height="1" fill="#fff"/><rect x="20.1" y="11.4" width="1" height="1" fill="#fff"/><rect x="15.3" y="3.6" width="1" height="1" fill="#fff"/><rect x="15.2" y="20.8" width="1" height="1" fill="#fff"/><rect x="12.6" y="17.8" width="1" height="1" fill="#fff"/><rect x="16.1" y="1.5" width="1" height="1" fill="#fff"/><rect x="18.2" y="14.2" width="1" height="1" fill="#fff"/><rect x="7.2" y="0.7" width="1" height="1" fill="#fff"/><rect x="20.8" y="11.3" width="1" height="1" fill="#fff"/><rect x="17.3" y="21.1" width="1" height="1" fill="#fff"/><rect x="17.1" y="22.1" width="1" height="1" fill="#fff"/><rect x="9.5" y="19.2" width="1" height="1" fill="#fff"/><rect x="10.7" y="22.5" width="1" height="1" fill="#fff"/><rect x="21.1" y="2.3" width="1" height="1" fill="#fff"/><rect x="3.3" y="5.2" width="1" height="1" fill="#fff"/><rect x="23.2" y="10.5" width="1" height="1" fill="#fff"/><rect x="15.0" y="7.2" width="1" height="1" fill="#fff"/><rect x="12.2" y="9.3" width="1" height="1" fill="#fff"/><rect x="8.4" y="14.0" width="1" height="1" fill="#fff"/><rect x="14.0" y="21.7" width="1" height="1" fill="#fff"/><rect x="16.4" y="22.3" width="1" height="1" fill="#fff"/><rect x="20.6" y="23.8" width="1" height="1" fill="#fff"/><rect x="16.1" y="3.9" width="1" height="1" fill="#fff"/><rect x="20.7" y="23.2" width="1" height="1" fill="#fff"/><rect x="21.7" y="13.7" width="1" height="1" fill="#fff"/><rect x="17.1" y="5.1" width="1" height="1" fill="#fff"/><rect x="20.0" y="13.8" width="1" height="1" fill="#fff"/><rect x="6.8" y="1.5" width="1" height="1" fill="#fff"/><rect x="20.5" y="23.8" width="1" height="1" fill="#fff"/><rect x="2.1" y="19.2" width="1" height="1" fill="#fff"/><rect x="9.9" y="3.6" width="1" height="1" fill="#fff"/><rect x="7.1" y="18.5" width="1" height="1" fill="#fff"/><rect x="20.9" y="1.1" width="1" height="1" fill="#fff"/><rect x="14.7" y="1.1" width="1" height="1" fill="#fff"/><rect x="17.2" y="7.9" width="1" height="1" fill="#fff"/><rect x="21.1" y="23.5" width="1" height="1" fill="#fff"/><rect x="12.1" y="24.0" width="1" height="1" fill="#fff"/><rect x="7.4" y="1.8" width="1" height="1" fill="#fff"/><rect x="14.4" y="0.8" width="1" height="1" fill="#fff"/><rect x="4.7" y="9.8" width="1" height="1" fill="#fff"/></pattern>
<pattern id="dense" width="12" height="12" patternUnits="userSpaceOnUse"><rect width="12" height="12" fill="#fff"/><rect x="6" y="0" width="1" height="1" fill="#000"/><rect x="7" y="5" width="1" height="1" fill="#000"/><rect x="0" y="0" width="1" height="1" fill="#000"/><rect x="2" y="0" width="1" height="1" fill="#000"/><rect x="1" y="0" width="1" height="1" fill="#000"/><rect x="1" y="7" width="1" height="1" fill="#000"/><rect x="0" y="11" width="1" height="1" fill="#000"/><rect x="1" y="8" width="1" height="1" fill="#000"/><rect x="8" y="7" width="1" height="1" fill="#000"/><rect x="5" y="2" width="1" height="1" fill="#000"/><rect x="5" y="1" width="1" height="1" fill="#000"/><rect x="5" y="6" width="1" height="1" fill="#000"/><rect x="10" y="6" width="1" height="1" fill="#000"/></pattern>
<pattern id="conc" width="24" height="24" patternUnits="userSpaceOnUse"><rect x="14.7" y="3.7" width="1.2" height="1.2" fill="#fff"/><rect x="1.0" y="20.8" width="1.2" height="1.2" fill="#fff"/><rect x="7.5" y="23.0" width="1.2" height="1.2" fill="#fff"/><rect x="21.5" y="9.1" width="1.2" height="1.2" fill="#fff"/><rect x="11.0" y="12.5" width="1.2" height="1.2" fill="#fff"/><rect x="15.5" y="14.3" width="1.2" height="1.2" fill="#fff"/><rect x="13.4" y="14.9" width="1.2" height="1.2" fill="#fff"/><rect x="22.6" y="12.2" width="1.2" height="1.2" fill="#fff"/><rect x="10.3" y="17.3" width="1.2" height="1.2" fill="#fff"/><rect x="5.7" y="7.2" width="1.2" height="1.2" fill="#fff"/><rect x="23.5" y="12.5" width="1.2" height="1.2" fill="#fff"/><rect x="13.2" y="0.3" width="1.2" height="1.2" fill="#fff"/><rect x="10.0" y="13.9" width="1.2" height="1.2" fill="#fff"/><rect x="0.5" y="14.8" width="1.2" height="1.2" fill="#fff"/><rect x="15.2" y="1.4" width="1.2" height="1.2" fill="#fff"/><rect x="15.1" y="11.2" width="1.2" height="1.2" fill="#fff"/><rect x="16.3" y="8.5" width="1.2" height="1.2" fill="#fff"/><rect x="17.0" y="17.7" width="1.2" height="1.2" fill="#fff"/><rect x="0.5" y="1.5" width="1.2" height="1.2" fill="#fff"/><rect x="16.2" y="23.1" width="1.2" height="1.2" fill="#fff"/><rect x="6.0" y="11.0" width="1.2" height="1.2" fill="#fff"/><rect x="14.2" y="7.7" width="1.2" height="1.2" fill="#fff"/><rect x="8.7" y="7.5" width="1.2" height="1.2" fill="#fff"/><rect x="8.9" y="14.3" width="1.2" height="1.2" fill="#fff"/><rect x="7.2" y="9.1" width="1.2" height="1.2" fill="#fff"/><rect x="18.5" y="0.6" width="1.2" height="1.2" fill="#fff"/><rect x="13.7" y="17.6" width="1.2" height="1.2" fill="#fff"/><rect x="7.4" y="5.3" width="1.2" height="1.2" fill="#fff"/><rect x="19.3" y="5.7" width="1.2" height="1.2" fill="#fff"/><rect x="4.5" y="10.4" width="1.2" height="1.2" fill="#fff"/><rect x="16.8" y="2.4" width="1.2" height="1.2" fill="#fff"/><rect x="7.7" y="8.0" width="1.2" height="1.2" fill="#fff"/><rect x="20.0" y="10.5" width="1.2" height="1.2" fill="#fff"/><rect x="20.5" y="4.1" width="1.2" height="1.2" fill="#fff"/><rect x="8.1" y="15.6" width="1.2" height="1.2" fill="#fff"/><rect x="21.2" y="10.8" width="1.2" height="1.2" fill="#fff"/><rect x="5.4" y="2.9" width="1.2" height="1.2" fill="#fff"/><rect x="12.7" y="4.6" width="1.2" height="1.2" fill="#fff"/><rect x="19.4" y="20.1" width="1.2" height="1.2" fill="#fff"/><rect x="4.4" y="6.7" width="1.2" height="1.2" fill="#fff"/><rect x="19.4" y="15.4" width="1.2" height="1.2" fill="#fff"/><rect x="19.4" y="8.3" width="1.2" height="1.2" fill="#fff"/><rect x="3.1" y="7.0" width="1.2" height="1.2" fill="#fff"/><rect x="19.1" y="6.5" width="1.2" height="1.2" fill="#fff"/><rect x="8.3" y="10.0" width="1.2" height="1.2" fill="#fff"/><rect x="10.1" y="9.8" width="1.2" height="1.2" fill="#fff"/><rect x="22.1" y="3.7" width="1.2" height="1.2" fill="#fff"/><rect x="0.1" y="22.6" width="1.2" height="1.2" fill="#fff"/><rect x="21.1" y="23.7" width="1.2" height="1.2" fill="#fff"/><rect x="10.4" y="22.8" width="1.2" height="1.2" fill="#fff"/><rect x="22.3" y="5.3" width="1.2" height="1.2" fill="#fff"/><rect x="17.9" y="20.1" width="1.2" height="1.2" fill="#fff"/><rect x="15.9" y="12.5" width="1.2" height="1.2" fill="#fff"/><rect x="6.9" y="8.2" width="1.2" height="1.2" fill="#fff"/><rect x="5.5" y="1.6" width="1.2" height="1.2" fill="#fff"/><rect x="14.1" y="6.9" width="1.2" height="1.2" fill="#fff"/><rect x="19.4" y="1.1" width="1.2" height="1.2" fill="#fff"/><rect x="21.7" y="16.6" width="1.2" height="1.2" fill="#fff"/><rect x="22.2" y="21.5" width="1.2" height="1.2" fill="#fff"/><rect x="21.6" y="13.8" width="1.2" height="1.2" fill="#fff"/><rect x="0.3" y="17.9" width="1.2" height="1.2" fill="#fff"/><rect x="4.1" y="7.2" width="1.2" height="1.2" fill="#fff"/><rect x="15.9" y="12.6" width="1.2" height="1.2" fill="#fff"/><rect x="9.9" y="22.5" width="1.2" height="1.2" fill="#fff"/><rect x="14.7" y="8.2" width="1.2" height="1.2" fill="#fff"/><rect x="6.1" y="20.7" width="1.2" height="1.2" fill="#fff"/><rect x="11.5" y="18.8" width="1.2" height="1.2" fill="#fff"/><rect x="8.4" y="4.7" width="1.2" height="1.2" fill="#fff"/><rect x="12.8" y="19.6" width="1.2" height="1.2" fill="#fff"/><rect x="4.1" y="19.0" width="1.2" height="1.2" fill="#fff"/><rect x="22.1" y="19.3" width="1.2" height="1.2" fill="#fff"/><rect x="19.8" y="0.2" width="1.2" height="1.2" fill="#fff"/><rect x="15.1" y="20.7" width="1.2" height="1.2" fill="#fff"/><rect x="1.2" y="6.5" width="1.2" height="1.2" fill="#fff"/><rect x="6.4" y="12.7" width="1.2" height="1.2" fill="#fff"/><path d="M-2 10L10 -2M-2 18L18 -2M-2 26L26 -2M6 26L26 6M14 26L26 14M22 26L26 22" stroke="#fff" stroke-width="1"/></pattern>
<pattern id="brick4" width="10.4" height="10.4" patternUnits="userSpaceOnUse" patternTransform="translate(0.6 0)"><path d="M-1 11.4L11.4 -1" stroke="#fff" stroke-width="1.4" shape-rendering="crispEdges"/></pattern>
<pattern id="brick1" width="10.4" height="10.4" patternUnits="userSpaceOnUse" patternTransform="translate(3 0)"><path d="M-1 11.4L11.4 -1" stroke="#fff" stroke-width="1.4" shape-rendering="crispEdges"/></pattern>
<pattern id="earth" width="3" height="4" patternUnits="userSpaceOnUse"><path d="M0 4L3 0" stroke="#fff" stroke-width="1"/></pattern>
</defs>
<path d="M399.5 87.0V156.0" stroke="#00ff00" stroke-width="1"/>
<path d="M389.5 113.0V162.0" stroke="#00ff00" stroke-width="1"/>
<path d="M396.0 88.5H414.0" stroke="#00ff00" stroke-width="1"/>
<path d="M396.0 103.5H414.0" stroke="#00ff00" stroke-width="1"/>
<path d="M396.0 114.5H414.0" stroke="#00ff00" stroke-width="1"/>
<path d="M396.0 127.5H414.0" stroke="#00ff00" stroke-width="1"/>
<path d="M396.0 144.5H414.0" stroke="#00ff00" stroke-width="1"/>
<path d="M396.0 154.5H414.0" stroke="#00ff00" stroke-width="1"/>
<text x="397.0" y="96.0" font-size="4.5" fill="#ffffff" stroke="#ffffff" stroke-width="0.6" text-anchor="middle" font-weight="bold" textLength="7.0" lengthAdjust="spacingAndGlyphs" transform="rotate(-90 397.0 96.0)">1500</text>
<text x="397.0" y="109.0" font-size="4.5" fill="#ffffff" stroke="#ffffff" stroke-width="0.6" text-anchor="middle" font-weight="bold" textLength="5.2" lengthAdjust="spacingAndGlyphs" transform="rotate(-90 397.0 109.0)">900</text>
<text x="397.0" y="121.0" font-size="4.5" fill="#ffffff" stroke="#ffffff" stroke-width="0.6" text-anchor="middle" font-weight="bold" textLength="7.0" lengthAdjust="spacingAndGlyphs" transform="rotate(-90 397.0 121.0)">1200</text>
<text x="397.0" y="135.5" font-size="4.5" fill="#ffffff" stroke="#ffffff" stroke-width="0.6" text-anchor="middle" font-weight="bold" textLength="7.0" lengthAdjust="spacingAndGlyphs" transform="rotate(-90 397.0 135.5)">1800</text>
<text x="397.0" y="149.5" font-size="4.5" fill="#ffffff" stroke="#ffffff" stroke-width="0.6" text-anchor="middle" font-weight="bold" textLength="5.2" lengthAdjust="spacingAndGlyphs" transform="rotate(-90 397.0 149.5)">900</text>
<text x="387.5" y="134.5" font-size="5" fill="#ffffff" stroke="#ffffff" stroke-width="0.6" text-anchor="middle" font-weight="bold" textLength="7.0" lengthAdjust="spacingAndGlyphs" transform="rotate(-90 387.5 134.5)">3600</text>
<text x="386.8" y="168.0" font-size="5" fill="#ffffff" stroke="#ffffff" stroke-width="0.6" text-anchor="middle" font-weight="bold" textLength="5.2" lengthAdjust="spacingAndGlyphs" transform="rotate(-90 386.8 168.0)">450</text>
<path d="M365.0 111.5H383.0" stroke="#00ff00" stroke-width="1"/>
<path d="M375.0 111.5L381.0 111.5L378.0 114.5Z" stroke="#00ff00" stroke-width="1" fill="none"/>
<text x="374.0" y="109.5" font-size="5" fill="#00ff00" stroke="#00ff00" stroke-width="0.6" text-anchor="middle" font-weight="bold" textLength="8.8" lengthAdjust="spacingAndGlyphs">3.600</text>
<path d="M373.0 114.5H386.0" stroke="#ffffff" stroke-width="1"/>
<path d="M360.0 150.5H381.0" stroke="#00ff00" stroke-width="1"/>
<path d="M373.0 150.5L379.0 150.5L376.0 153.5Z" stroke="#00ff00" stroke-width="1" fill="none"/>
<text x="374.0" y="148.5" font-size="5" fill="#00ff00" stroke="#00ff00" stroke-width="0.6" text-anchor="middle" font-weight="bold" textLength="10.5" lengthAdjust="spacingAndGlyphs">±0.000</text>
<path d="M373.0 154.5H433.6" stroke="#ffffff" stroke-width="1"/>
<path d="M374.0 160.5H433.6" stroke="#ffffff" stroke-width="1"/>
<path d="M411.0 116.5H428.0" stroke="#00ff00" stroke-width="1"/>
<path d="M421.0 116.5L427.0 116.5L424.0 119.5Z" stroke="#00ff00" stroke-width="1" fill="none"/>
<text x="418.0" y="114.5" font-size="5" fill="#00ff00" stroke="#00ff00" stroke-width="0.6" text-anchor="middle" font-weight="bold" textLength="8.8" lengthAdjust="spacingAndGlyphs">3.300</text>
<path d="M408.0 156.5H425.0" stroke="#00ff00" stroke-width="1"/>
<path d="M409.0 156.5L415.0 156.5L412.0 159.5Z" stroke="#00ff00" stroke-width="1" fill="none"/>
<text x="420.0" y="153.5" font-size="5" fill="#00ff00" stroke="#00ff00" stroke-width="0.6" text-anchor="middle" font-weight="bold" textLength="10.5" lengthAdjust="spacingAndGlyphs">-0.450</text>
<rect x="427.5" y="84.5" width="23.0" height="13.0" stroke="#00ff00" stroke-width="1" fill="none"/>
<path d="M429.6 91.5H448.0" stroke="#00ff00" stroke-width="1"/>
<path d="M441.0 91.5L446.5 91.5L443.7 95.0Z" stroke="#00ff00" stroke-width="1" fill="none"/>
<text x="437.0" y="89.5" font-size="4.5" fill="#00ff00" stroke="#00ff00" stroke-width="0.6" text-anchor="middle" font-weight="bold" textLength="8.8" lengthAdjust="spacingAndGlyphs">6.600</text>
<path d="M432.4 99.5H451.0" stroke="#00ff00" stroke-width="1"/>
<path d="M432.5 97.4V118.0" stroke="#00ff00" stroke-width="1"/>
<path d="M446.5 70.6V84.0" stroke="#00ff00" stroke-width="1"/>
<rect x="494.5" y="47.5" width="75.5" height="3.0" stroke="#ffffff" stroke-width="1" fill="none"/>
<path d="M446.5 70.5L446.5 67.5L480.0 67.5L500.0 58.0" stroke="#ffffff" stroke-width="1" fill="none"/>
<path d="M446.5 70.5L480.0 70.5L500.0 61.0" stroke="#ffffff" stroke-width="1" fill="none"/>
<path d="M480.0 68.5L500.0 59.5" stroke="#ffffff" stroke-width="2"/>
<path d="M446.5 69.5H480.0" stroke="#ffffff" stroke-width="1"/>
<path d="M455.0 77.5H467.0" stroke="#00ff00" stroke-width="1"/>
<path d="M467.0 77.5L482.0 70.5" stroke="#00ff00" stroke-width="1"/>
<path d="M451.5 70.0V89.0" stroke="#ffffff" stroke-width="1"/>
<path d="M454.5 70.0V89.0" stroke="#ffffff" stroke-width="1"/>
<rect x="451.0" y="89.0" width="4.0" height="14.0" stroke="#00ff00" stroke-width="0" fill="#00ff00"/>
<path d="M451.5 103.0V127.0" stroke="#ffffff" stroke-width="1"/>
<path d="M454.5 103.0V127.0" stroke="#ffffff" stroke-width="1"/>
<path d="M451.5 144.5V154.5" stroke="#ffffff" stroke-width="1"/>
<path d="M454.5 144.5V154.5" stroke="#ffffff" stroke-width="1"/>
<path d="M451.0 144.5H454.4" stroke="#ffffff" stroke-width="1"/>
<path d="M500.5 50.0V115.0" stroke="#ffffff" stroke-width="1"/>
<path d="M502.5 50.0V115.0" stroke="#ffffff" stroke-width="1"/>
<path d="M495.5 51.0V60.0" stroke="#00ff00" stroke-width="1"/>
<path d="M498.5 51.0V60.0" stroke="#00ff00" stroke-width="1"/>
<path d="M503.0 58.5H562.6" stroke="#00ff00" stroke-width="1"/>
<path d="M563.5 50.0V87.4" stroke="#ffffff" stroke-width="1"/>
<path d="M565.5 50.0V87.4" stroke="#ffffff" stroke-width="1"/>
<rect x="562.5" y="87.4" width="3.5" height="27.6" stroke="#00ff00" stroke-width="0" fill="#00ff00"/>
<path d="M486.5 114.0L486.5 88.0L497.5 88.0L497.5 114.0" stroke="#00ff00" stroke-width="1" fill="none"/>
<path d="M487.5 114.0L487.5 89.0L496.5 89.0L496.5 114.0" stroke="#00ff00" stroke-width="1" fill="none"/>
<path d="M504.5 114.0L504.5 88.0L516.5 88.0L516.5 114.0" stroke="#00ff00" stroke-width="1" fill="none"/>
<path d="M505.5 114.0L505.5 89.0L515.5 89.0L515.5 114.0" stroke="#00ff00" stroke-width="1" fill="none"/>
<path d="M520.5 114.0L520.5 88.0L531.5 88.0L531.5 114.0" stroke="#00ff00" stroke-width="1" fill="none"/>
<path d="M521.5 114.0L521.5 89.0L530.5 89.0L530.5 114.0" stroke="#00ff00" stroke-width="1" fill="none"/>
<rect x="455.0" y="114.0" width="129.0" height="3.0" stroke="#ffffff" stroke-width="0" fill="#ffffff"/>
<path d="M581.5 115.0V125.0" stroke="#ffffff" stroke-width="1"/>
<path d="M584.5 115.0V125.0" stroke="#ffffff" stroke-width="1"/>
<rect x="562.5" y="115.5" width="3.0" height="3.0" stroke="#ffffff" stroke-width="1" fill="none"/>
<path d="M569.5 51.0V58.6" stroke="#00ff00" stroke-width="1"/>
<path d="M569.6 57.5H577.0" stroke="#00ff00" stroke-width="1"/>
<path d="M577.5 57.0V65.0" stroke="#00ff00" stroke-width="1"/>
<path d="M565.6 65.5H577.6" stroke="#ffffff" stroke-width="1"/>
<path d="M571.5 66.0V80.0" stroke="#ffffff" stroke-width="1"/>
<rect x="572.5" y="67.5" width="5.0" height="12.5" stroke="#00ff00" stroke-width="1" fill="none"/>
<path d="M572.5 80.0V114.0" stroke="#00ff00" stroke-width="1"/>
<path d="M572.5 90.5L576.0 92.0L580.0 94.0L580.0 96.0L572.5 96.0" stroke="#00ff00" stroke-width="1" fill="none"/>
<rect x="572.5" y="102.5" width="12.5" height="11.0" stroke="#00ff00" stroke-width="1" fill="none"/>
<path d="M579.5 102.0V113.0" stroke="#00ff00" stroke-width="1"/>
<path d="M583.5 102.0V113.0" stroke="#00ff00" stroke-width="1"/>
<path d="M481.5 116.6V154.0" stroke="#ffffff" stroke-width="1"/>
<path d="M485.5 116.6V154.0" stroke="#ffffff" stroke-width="1"/>
<path d="M502.5 116.6V154.0" stroke="#00ff00" stroke-width="1"/>
<path d="M525.5 116.6V127.4" stroke="#ffffff" stroke-width="1"/>
<path d="M528.5 116.6V155.0" stroke="#ffffff" stroke-width="1"/>
<path d="M525.5 127.4V154.0" stroke="#00ff00" stroke-width="1"/>
<path d="M525.6 127.5H528.0" stroke="#ffffff" stroke-width="1"/>
<rect x="504.5" y="127.5" width="18.5" height="26.5" stroke="#ffffff" stroke-width="1" fill="none"/>
<path d="M506.5 128.0V154.0" stroke="#ffffff" stroke-width="1"/>
<path d="M513.5 128.0V154.0" stroke="#ffffff" stroke-width="1"/>
<path d="M515.5 128.0V154.0" stroke="#ffffff" stroke-width="1"/>
<path d="M521.5 128.0V154.0" stroke="#ffffff" stroke-width="1"/>
<path d="M434.0 154.5H528.0" stroke="#ffffff" stroke-width="1"/>
<path d="M528.0 155.5H580.6" stroke="#ffffff" stroke-width="1"/>
<path d="M532.0 127.5H546.0" stroke="#00ff00" stroke-width="1"/>
<path d="M544.5 126.0V157.0" stroke="#00ff00" stroke-width="1"/>
<text x="541.5" y="141.0" font-size="5" fill="#ffffff" stroke="#ffffff" stroke-width="0.6" text-anchor="middle" font-weight="bold" textLength="7.0" lengthAdjust="spacingAndGlyphs" transform="rotate(-90 541.5 141.0)">2400</text>
<text x="541.0" y="163.0" font-size="4.5" fill="#ffffff" stroke="#ffffff" stroke-width="0.6" text-anchor="middle" font-weight="bold" textLength="5.2" lengthAdjust="spacingAndGlyphs">150</text>
<rect x="562.5" y="127.5" width="9.0" height="26.5" stroke="#00ff00" stroke-width="1" fill="none"/>
<rect x="580.5" y="125.0" width="2.5" height="19.0" stroke="#00ff00" stroke-width="0" fill="#00ff00"/>
<path d="M580.5 116.6V125.0" stroke="#ffffff" stroke-width="1"/>
<path d="M585.5 116.6V125.0" stroke="#ffffff" stroke-width="1"/>
<path d="M580.5 144.0V155.0" stroke="#ffffff" stroke-width="1"/>
<path d="M585.5 144.0V156.0" stroke="#ffffff" stroke-width="1"/>
<path d="M585.0 126.5L588.0 126.5L591.0 128.0L591.0 129.5L585.0 129.5" stroke="#00ff00" stroke-width="1" fill="none"/>
<path d="M584.5 156.0V160.4" stroke="#ffffff" stroke-width="1"/>
<path d="M584.4 160.5H661.0" stroke="#ffffff" stroke-width="1"/>
<path d="M425.5 121.5L451.5 112.0" stroke="#ffffff" stroke-width="2"/>
<rect x="432.5" y="117.5" width="3.0" height="7.0" stroke="#ffffff" stroke-width="1" fill="none"/>
<path d="M432.5 124.5H451.0" stroke="#a8644e" stroke-width="1"/>
<path d="M432.5 126.5H451.0" stroke="#a8644e" stroke-width="1"/>
<path d="M432.5 129.5H451.0" stroke="#a8644e" stroke-width="1"/>
<path d="M432.5 131.5H451.0" stroke="#a8644e" stroke-width="1"/>
<path d="M432.5 133.5H451.0" stroke="#a8644e" stroke-width="1"/>
<path d="M432.5 135.5H451.0" stroke="#a8644e" stroke-width="1"/>
<path d="M432.5 137.5H451.0" stroke="#a8644e" stroke-width="1"/>
<path d="M432.5 139.5H451.0" stroke="#a8644e" stroke-width="1"/>
<path d="M432.5 142.5H451.0" stroke="#a8644e" stroke-width="1"/>
<path d="M432.5 144.5H451.0" stroke="#a8644e" stroke-width="1"/>
<path d="M432.5 146.5H451.0" stroke="#a8644e" stroke-width="1"/>
<path d="M432.5 148.5H451.0" stroke="#a8644e" stroke-width="1"/>
<path d="M432.5 150.5H451.0" stroke="#a8644e" stroke-width="1"/>
<path d="M432.5 153.5H451.0" stroke="#a8644e" stroke-width="1"/>
<path d="M432.5 99.0V154.5" stroke="#00ff00" stroke-width="1"/>
<path d="M450.6 129.5H451.6" stroke="#00ff00" stroke-width="1"/>
<path d="M450.6 132.5H451.6" stroke="#00ff00" stroke-width="1"/>
<path d="M450.6 135.5H451.6" stroke="#00ff00" stroke-width="1"/>
<path d="M450.6 138.5H451.6" stroke="#00ff00" stroke-width="1"/>
<path d="M450.6 141.5H451.6" stroke="#00ff00" stroke-width="1"/>
<rect x="452.0" y="127.5" width="3.0" height="16.5" stroke="#00ff00" stroke-width="0" fill="#00ff00"/>
<rect x="455.0" y="117.5" width="4.0" height="20.0" stroke="#00ff00" stroke-width="0" fill="#00ff00"/>
<path d="M455.0 118.5H475.0" stroke="#00ff00" stroke-width="1"/>
<path d="M462.5 118.0V126.0" stroke="#00ff00" stroke-width="1"/>
<path d="M464.5 118.0V124.4" stroke="#00ff00" stroke-width="1"/>
<path d="M467.5 118.0V122.8" stroke="#00ff00" stroke-width="1"/>
<path d="M469.5 118.0V121.2" stroke="#00ff00" stroke-width="1"/>
<path d="M472.5 118.0V119.6" stroke="#00ff00" stroke-width="1"/>
<path d="M475.0 119.0L472.0 119.0L472.0 121.0L469.5 121.0L469.5 123.0L467.0 123.0L467.0 125.0L464.5 125.0L464.5 127.0L462.0 127.0" stroke="#00ff00" stroke-width="1" fill="none"/>
<path d="M456.0 119.5L480.0 139.5" stroke="#00ff00" stroke-width="1"/>
<path d="M456.0 135.5L480.0 152.0" stroke="#00ff00" stroke-width="2"/>
<path d="M456.0 137.0L478.0 152.5" stroke="#00ff00" stroke-width="1"/>
<path d="M458.5 121.6V137.2" stroke="#00ff00" stroke-width="1"/>
<path d="M461.5 123.7V138.9" stroke="#00ff00" stroke-width="1"/>
<path d="M463.5 125.7V140.7" stroke="#00ff00" stroke-width="1"/>
<path d="M466.5 127.8V142.4" stroke="#00ff00" stroke-width="1"/>
<path d="M468.5 129.9V144.1" stroke="#00ff00" stroke-width="1"/>
<path d="M471.5 132.0V145.8" stroke="#00ff00" stroke-width="1"/>
<path d="M473.5 134.1V147.5" stroke="#00ff00" stroke-width="1"/>
<path d="M476.5 136.1V149.3" stroke="#00ff00" stroke-width="1"/>
<path d="M478.5 138.2V151.0" stroke="#00ff00" stroke-width="1"/>
<path d="M480.5 139.0V152.0" stroke="#00ff00" stroke-width="1"/>
<path d="M434.5 155.0V178.7" stroke="#ff0000" stroke-width="1"/>
<path d="M434.5 178.7V194.0" stroke="#00ff00" stroke-width="1"/>
<circle cx="434.3" cy="199.3" r="5" stroke="#00ff00" stroke-width="1" fill="none" shape-rendering="geometricPrecision"/>
<text x="434.3" y="202.2" font-size="8" fill="#ffffff" text-anchor="middle" font-weight="normal">1</text>
<path d="M582.5 157.4V178.6" stroke="#ff0000" stroke-width="1"/>
<path d="M582.5 178.6V194.0" stroke="#00ff00" stroke-width="1"/>
<circle cx="582.2" cy="199.2" r="5" stroke="#00ff00" stroke-width="1" fill="none" shape-rendering="geometricPrecision"/>
<text x="582.2" y="202.1" font-size="8" fill="#ffffff" text-anchor="middle" font-weight="normal">7</text>
<path d="M624.5 86.3V156.5" stroke="#00ff00" stroke-width="1"/>
<path d="M635.5 113.0V162.0" stroke="#00ff00" stroke-width="1"/>
<path d="M611.0 87.5H627.0" stroke="#00ff00" stroke-width="1"/>
<path d="M611.0 114.5H635.3" stroke="#00ff00" stroke-width="1"/>
<path d="M637.0 114.5H661.0" stroke="#ffffff" stroke-width="1"/>
<path d="M611.0 125.5H627.7" stroke="#00ff00" stroke-width="1"/>
<path d="M611.0 144.5H627.0" stroke="#00ff00" stroke-width="1"/>
<path d="M611.0 154.5H635.3" stroke="#00ff00" stroke-width="1"/>
<path d="M637.0 154.5H663.0" stroke="#ffffff" stroke-width="1"/>
<text x="622.5" y="101.0" font-size="4.5" fill="#ffffff" stroke="#ffffff" stroke-width="0.6" text-anchor="middle" font-weight="bold" textLength="7.0" lengthAdjust="spacingAndGlyphs" transform="rotate(-90 622.5 101.0)">3000</text>
<text x="622.5" y="120.0" font-size="4.5" fill="#ffffff" stroke="#ffffff" stroke-width="0.6" text-anchor="middle" font-weight="bold" textLength="7.0" lengthAdjust="spacingAndGlyphs" transform="rotate(-90 622.5 120.0)">1200</text>
<text x="622.5" y="135.0" font-size="4.5" fill="#ffffff" stroke="#ffffff" stroke-width="0.6" text-anchor="middle" font-weight="bold" textLength="7.0" lengthAdjust="spacingAndGlyphs" transform="rotate(-90 622.5 135.0)">1800</text>
<text x="622.5" y="149.5" font-size="4.5" fill="#ffffff" stroke="#ffffff" stroke-width="0.6" text-anchor="middle" font-weight="bold" textLength="5.2" lengthAdjust="spacingAndGlyphs" transform="rotate(-90 622.5 149.5)">900</text>
<text x="633.0" y="135.0" font-size="5" fill="#ffffff" stroke="#ffffff" stroke-width="0.6" text-anchor="middle" font-weight="bold" textLength="7.0" lengthAdjust="spacingAndGlyphs" transform="rotate(-90 633.0 135.0)">3600</text>
<text x="632.0" y="158.0" font-size="4.5" fill="#ffffff" stroke="#ffffff" stroke-width="0.6" text-anchor="middle" font-weight="bold" textLength="5.2" lengthAdjust="spacingAndGlyphs" transform="rotate(-60 632.0 158.0)">450</text>
<path d="M643.5 111.5L649.5 111.5L646.5 114.0Z" stroke="#00ff00" stroke-width="1" fill="none"/>
<text x="654.0" y="109.3" font-size="4.5" fill="#00ff00" stroke="#00ff00" stroke-width="0.6" text-anchor="middle" font-weight="bold" textLength="8.8" lengthAdjust="spacingAndGlyphs">3.600</text>
<path d="M643.5 151.5L649.5 151.5L646.5 154.0Z" stroke="#00ff00" stroke-width="1" fill="none"/>
<text x="655.0" y="149.5" font-size="4.5" fill="#00ff00" stroke="#00ff00" stroke-width="0.6" text-anchor="middle" font-weight="bold" textLength="10.5" lengthAdjust="spacingAndGlyphs">±0.000</text>
<path d="M643.5 164.5L649.5 164.5L646.5 161.0Z" stroke="#00ff00" stroke-width="1" fill="none"/>
<path d="M643.4 164.5H663.0" stroke="#00ff00" stroke-width="1"/>
<text x="655.5" y="169.8" font-size="4.5" fill="#00ff00" stroke="#00ff00" stroke-width="0.6" text-anchor="middle" font-weight="bold" textLength="10.5" lengthAdjust="spacingAndGlyphs">-0.450</text>
<rect x="446.0" y="70.0" width="1.0" height="1.0" stroke="#ff00ff" stroke-width="0" fill="#ff00ff"/>
<rect x="451.0" y="104.0" width="1.0" height="1.0" stroke="#ff00ff" stroke-width="0" fill="#ff00ff"/>
<rect x="451.0" y="127.0" width="1.0" height="1.0" stroke="#ff00ff" stroke-width="0" fill="#ff00ff"/>
<rect x="425.0" y="122.0" width="1.0" height="1.0" stroke="#ff00ff" stroke-width="0" fill="#ff00ff"/>
<rect x="432.0" y="124.0" width="1.0" height="1.0" stroke="#ff00ff" stroke-width="0" fill="#ff00ff"/>
<rect x="436.0" y="124.0" width="1.0" height="1.0" stroke="#ff00ff" stroke-width="0" fill="#ff00ff"/>
<rect x="451.0" y="143.0" width="1.0" height="1.0" stroke="#ff00ff" stroke-width="0" fill="#ff00ff"/>
<rect x="454.0" y="154.0" width="1.0" height="1.0" stroke="#ff00ff" stroke-width="0" fill="#ff00ff"/>
<rect x="432.0" y="154.0" width="1.0" height="1.0" stroke="#ff00ff" stroke-width="0" fill="#ff00ff"/>
<rect x="494.0" y="51.0" width="1.0" height="1.0" stroke="#ff00ff" stroke-width="0" fill="#ff00ff"/>
<rect x="569.0" y="51.0" width="1.0" height="1.0" stroke="#ff00ff" stroke-width="0" fill="#ff00ff"/>
<rect x="577.0" y="65.0" width="1.0" height="1.0" stroke="#ff00ff" stroke-width="0" fill="#ff00ff"/>
<rect x="571.0" y="80.0" width="1.0" height="1.0" stroke="#ff00ff" stroke-width="0" fill="#ff00ff"/>
<rect x="562.0" y="87.0" width="1.0" height="1.0" stroke="#ff00ff" stroke-width="0" fill="#ff00ff"/>
<rect x="584.0" y="112.0" width="1.0" height="1.0" stroke="#ff00ff" stroke-width="0" fill="#ff00ff"/>
<rect x="585.0" y="116.0" width="1.0" height="1.0" stroke="#ff00ff" stroke-width="0" fill="#ff00ff"/>
<rect x="580.0" y="125.0" width="1.0" height="1.0" stroke="#ff00ff" stroke-width="0" fill="#ff00ff"/>
<rect x="585.0" y="144.0" width="1.0" height="1.0" stroke="#ff00ff" stroke-width="0" fill="#ff00ff"/>
<rect x="582.0" y="157.0" width="1.0" height="1.0" stroke="#ff00ff" stroke-width="0" fill="#ff00ff"/>
<rect x="525.0" y="127.0" width="1.0" height="1.0" stroke="#ff00ff" stroke-width="0" fill="#ff00ff"/>
<rect x="481.0" y="116.0" width="1.0" height="1.0" stroke="#ff00ff" stroke-width="0" fill="#ff00ff"/>
<text transform="translate(486.0 201.3) scale(0.72 1)" font-size="11.5" fill="#ffffff" font-weight="normal">A</text>
<text transform="translate(504.5 201.3) scale(0.72 1)" font-size="11.5" fill="#ffffff" font-weight="normal">A</text>
<path d="M494.0 197.5H497.5" stroke="#ffffff" stroke-width="1"/>
<path d="M499.5 197.5H503.0" stroke="#ffffff" stroke-width="1"/>
<text transform="translate(512.5 200.8) scale(0.52 1)" font-size="11" fill="#ffffff" font-weight="bold">剖</text>
<text transform="translate(520.1 200.8) scale(0.52 1)" font-size="11" fill="#ffffff" font-weight="bold">面</text>
<path d="M486.0 204.5H536.0" stroke="#ffffff" stroke-width="1"/>
<path d="M486.0 206.5H536.0" stroke="#ffffff" stroke-width="1"/>
<text x="545.0" y="202.8" font-size="6" fill="#ffffff" stroke="#ffffff" stroke-width="0.4" text-anchor="middle" font-weight="bold" textLength="10" lengthAdjust="spacingAndGlyphs">1:100</text>
<path d="M89.3 358.5L96.3 351.5M89.3 368.9L106.7 351.5M89.3 379.3L108.6 360.0M89.3 389.7L108.6 370.4M89.3 400.1L108.6 380.8M89.3 410.5L108.6 391.2M89.3 420.9L108.6 401.6M98.1 422.5L108.6 412.0" stroke="#fff" stroke-width="1.2" fill="none"/>
<path d="M88.5 351.0V422.5" stroke="#ffffff" stroke-width="1"/>
<path d="M108.5 351.0V422.5" stroke="#ffffff" stroke-width="1"/>
<path d="M109.5 351.0V363.5" stroke="#ffffff" stroke-width="1"/>
<path d="M85.0 351.5H111.0" stroke="#ffffff" stroke-width="1"/>
<path d="M97.0 351.0L97.5 348.5L99.0 353.0L99.5 351.0" stroke="#ffffff" stroke-width="1" fill="none"/>
<rect x="85.0" y="351.5" width="3.6" height="54.5" fill="url(#dense)" stroke="none"/>
<rect x="88.6" y="370.0" width="20.0" height="19.0" fill="url(#dots)" stroke="none"/>
<path d="M85.0 369.5H108.6" stroke="#ffffff" stroke-width="1"/>
<path d="M88.6 389.5H108.6" stroke="#ffffff" stroke-width="1"/>
<rect x="81.2" y="367.0" width="4.0" height="8.6" fill="url(#dense)" stroke="none"/>
<path d="M109.0 363.5H135.0" stroke="#ffffff" stroke-width="1"/>
<rect x="109.0" y="364.0" width="26.0" height="5.0" fill="url(#dense)" stroke="none"/>
<path d="M109.0 369.5H135.0" stroke="#ffffff" stroke-width="1"/>
<rect x="109.0" y="370.0" width="26.0" height="6.0" fill="url(#dots)" stroke="none"/>
<rect x="110.0" y="370.0" width="25.0" height="6.0" fill="url(#dots)" stroke="none"/>
<path d="M109.0 376.5H134.0" stroke="#ffffff" stroke-width="1"/>
<rect x="110.0" y="377.0" width="24.0" height="4.0" fill="url(#earth)" stroke="none"/>
<path d="M35.0 407H88.4" stroke="#ffffff" stroke-width="2"/>
<rect x="35.0" y="408.0" width="53.4" height="3.4" fill="url(#dots)" stroke="none"/>
<rect x="36.5" y="408.0" width="52.0" height="3.4" fill="url(#dots)" stroke="none"/>
<rect x="38.0" y="408.4" width="50.0" height="3.0" fill="url(#dots)" stroke="none"/>
<path d="M35.0 412.5H88.4" stroke="#ffffff" stroke-width="1"/>
<rect x="36.0" y="413.0" width="52.0" height="4.2" fill="url(#earth)" stroke="none"/>
<path d="M83.5 332.0V348.0" stroke="#00ff00" stroke-width="1"/>
<path d="M84.5 332.0V348.0" stroke="#00ff00" stroke-width="1"/>
<path d="M87.5 332.0V348.0" stroke="#00ff00" stroke-width="1"/>
<path d="M88.5 332.0V348.0" stroke="#00ff00" stroke-width="1"/>
<text x="76.0" y="332.5" font-size="4" fill="#ffffff" stroke="#ffffff" stroke-width="0.6" text-anchor="middle" font-weight="bold" textLength="3.5" lengthAdjust="spacingAndGlyphs">20</text>
<text x="95.5" y="332.5" font-size="4" fill="#ffffff" stroke="#ffffff" stroke-width="0.6" text-anchor="middle" font-weight="bold" textLength="3.5" lengthAdjust="spacingAndGlyphs">60</text>
<path d="M60.0 363.5H81.0" stroke="#00ff00" stroke-width="1"/>
<path d="M60.0 363.5L66.0 363.5L63.0 366.5Z" stroke="#00ff00" stroke-width="1" fill="none"/>
<text x="71.5" y="361.5" font-size="5" fill="#00ff00" stroke="#00ff00" stroke-width="0.6" text-anchor="middle" font-weight="bold" textLength="10.5" lengthAdjust="spacingAndGlyphs">-0.150</text>
<path d="M49.0 366.5H79.0" stroke="#00ff00" stroke-width="1"/>
<path d="M49.0 369.5H79.0" stroke="#00ff00" stroke-width="1"/>
<path d="M49.0 373.5H79.0" stroke="#00ff00" stroke-width="1"/>
<path d="M49.0 376.5H79.0" stroke="#00ff00" stroke-width="1"/>
<path d="M51.5 365.6V378.0" stroke="#00ff00" stroke-width="1"/>
<text x="48.0" y="362.0" font-size="4" fill="#ffffff" stroke="#ffffff" stroke-width="0.6" text-anchor="middle" font-weight="bold" textLength="3.5" lengthAdjust="spacingAndGlyphs">20</text>
<text x="48.0" y="374.0" font-size="4" fill="#ffffff" stroke="#ffffff" stroke-width="0.6" text-anchor="middle" font-weight="bold" textLength="3.5" lengthAdjust="spacingAndGlyphs">60</text>
<text x="48.5" y="385.5" font-size="4" fill="#ffffff" stroke="#ffffff" stroke-width="0.6" text-anchor="middle" font-weight="normal">N</text>
<path d="M49.3 402.5H70.0" stroke="#00ff00" stroke-width="1"/>
<path d="M49.3 402.5L55.3 402.5L52.3 405.5Z" stroke="#00ff00" stroke-width="1" fill="none"/>
<text x="61.2" y="400.6" font-size="5" fill="#00ff00" stroke="#00ff00" stroke-width="0.6" text-anchor="middle" font-weight="bold" textLength="10.5" lengthAdjust="spacingAndGlyphs">-0.450</text>
<path d="M121.0 359.5H147.0" stroke="#00ff00" stroke-width="1"/>
<path d="M121.0 359.5L127.0 359.5L124.0 362.5Z" stroke="#00ff00" stroke-width="1" fill="none"/>
<text x="136.5" y="351.3" font-size="5" fill="#00ff00" stroke="#00ff00" stroke-width="0.6" text-anchor="middle" font-weight="bold" textLength="14.0" lengthAdjust="spacingAndGlyphs">(-0.020)</text>
<text x="135.5" y="357.5" font-size="4.5" fill="#00ff00" stroke="#00ff00" stroke-width="0.6" text-anchor="middle" font-weight="bold" textLength="10.5" lengthAdjust="spacingAndGlyphs">±0.000</text>
<path d="M88.5 424.8V444.0" stroke="#00ff00" stroke-width="1"/>
<path d="M98.5 424.8V444.0" stroke="#00ff00" stroke-width="1"/>
<path d="M108.5 424.8V444.0" stroke="#00ff00" stroke-width="1"/>
<path d="M86.5 441.5H110.2" stroke="#00ff00" stroke-width="1"/>
<text x="88.5" y="438.7" font-size="4" fill="#ffffff" stroke="#ffffff" stroke-width="0.6" text-anchor="middle" font-weight="bold" textLength="12.2" lengthAdjust="spacingAndGlyphs">120(60)</text>
<text x="104.0" y="438.7" font-size="4" fill="#ffffff" stroke="#ffffff" stroke-width="0.6" text-anchor="middle" font-weight="bold" textLength="5.2" lengthAdjust="spacingAndGlyphs">120</text>
<circle cx="98.2" cy="449.7" r="5" stroke="#00ff00" stroke-width="1" fill="none" shape-rendering="geometricPrecision"/>
<circle cx="134.0" cy="441.4" r="9" stroke="#ffffff" stroke-width="1" fill="none" shape-rendering="geometricPrecision"/>
<path d="M125.0 441.5H143.0" stroke="#ffffff" stroke-width="1"/>
<text x="133.2" y="439.8" font-size="6.5" fill="#ffffff" stroke="#ffffff" stroke-width="0.4" text-anchor="middle" font-weight="bold">4</text>
<text x="134.2" y="448.4" font-size="7" fill="#ffffff" stroke="#ffffff" stroke-width="0.4" text-anchor="middle" font-weight="bold" textLength="5.6" lengthAdjust="spacingAndGlyphs">J6</text>
<text x="147.8" y="449.6" font-size="6" fill="#ffffff" stroke="#ffffff" stroke-width="0.4" text-anchor="start" font-weight="bold" textLength="7.4" lengthAdjust="spacingAndGlyphs">1:15</text>
<rect x="208.2" y="368.0" width="36.3" height="37.0" fill="url(#dense)" stroke="none"/>
<rect x="211.2" y="371" width="30.3" height="31" fill="#000" stroke="none"/>
<path d="M197.0 390.5H206.0" stroke="#ff0000" stroke-width="1"/>
<path d="M208.0 390.5H236.0" stroke="#ff0000" stroke-width="1"/>
<path d="M239.0 390.5H243.0" stroke="#ff0000" stroke-width="1"/>
<path d="M246.0 390.5H276.0" stroke="#ff0000" stroke-width="1"/>
<path d="M279.0 390.5H282.0" stroke="#ff0000" stroke-width="1"/>
<path d="M222.5 365.0V368.0" stroke="#ff0000" stroke-width="1"/>
<path d="M222.5 371.0V400.0" stroke="#ff0000" stroke-width="1"/>
<path d="M222.5 403.0V407.0" stroke="#ff0000" stroke-width="1"/>
<path d="M222.5 410.0V436.0" stroke="#ff0000" stroke-width="1"/>
<rect x="211.2" y="371.0" width="30.3" height="31.0" fill="url(#conc)" stroke="none"/>
<path d="M203.5 409.6L203.5 363.5L211.5 363.5L211.5 356.5" stroke="#ffffff" stroke-width="1" fill="none"/>
<path d="M216.5 356.5V368.0" stroke="#ffffff" stroke-width="1"/>
<path d="M208.2 356.5H232.0" stroke="#ffffff" stroke-width="1"/>
<path d="M229.5 356.5V368.0" stroke="#ffffff" stroke-width="1"/>
<path d="M218.0 356.5L219.5 354.0L220.5 359.5L222.0 356.5" stroke="#ffffff" stroke-width="1" fill="none"/>
<path d="M203.6 409.5H250.0" stroke="#ffffff" stroke-width="1"/>
<path d="M250.5 401.6V409.6" stroke="#ffffff" stroke-width="1"/>
<path d="M245.0 401.5H260.4" stroke="#ffffff" stroke-width="1"/>
<path d="M245.0 384.5H260.4" stroke="#ffffff" stroke-width="1"/>
<path d="M260.5 379.0V392.0" stroke="#ffffff" stroke-width="1"/>
<path d="M260.5 394.0V407.0" stroke="#ffffff" stroke-width="1"/>
<path d="M260.4 392.0L258.5 393.0L262.0 393.5L260.4 394.5" stroke="#ffffff" stroke-width="1" fill="none"/>
<path d="M248.0 398.5H260.4" stroke="#ffffff" stroke-width="1"/>
<path d="M278.5 363.0V410.0" stroke="#00ff00" stroke-width="1"/>
<path d="M242.0 365.5H281.0" stroke="#00ff00" stroke-width="1"/>
<path d="M243.0 370.5H281.0" stroke="#00ff00" stroke-width="1"/>
<path d="M248.0 375.5H271.0" stroke="#00ff00" stroke-width="1"/>
<path d="M248.0 398.5H271.0" stroke="#00ff00" stroke-width="1"/>
<path d="M243.0 403.5H281.0" stroke="#00ff00" stroke-width="1"/>
<path d="M250.0 408.5H281.0" stroke="#00ff00" stroke-width="1"/>
<path d="M268.5 370.0V376.0" stroke="#00ff00" stroke-width="1"/>
<path d="M268.5 397.0V405.0" stroke="#00ff00" stroke-width="1"/>
<text x="275.0" y="368.8" font-size="4" fill="#ffffff" stroke="#ffffff" stroke-width="0.6" text-anchor="middle" font-weight="bold" textLength="3.5" lengthAdjust="spacingAndGlyphs">60</text>
<text x="265.0" y="373.8" font-size="4" fill="#ffffff" stroke="#ffffff" stroke-width="0.6" text-anchor="middle" font-weight="bold" textLength="3.5" lengthAdjust="spacingAndGlyphs">20</text>
<text x="275.5" y="382.0" font-size="4" fill="#ffffff" stroke="#ffffff" stroke-width="0.6" text-anchor="middle" font-weight="bold" textLength="5.2" lengthAdjust="spacingAndGlyphs">250</text>
<text x="275.5" y="398.5" font-size="4" fill="#ffffff" stroke="#ffffff" stroke-width="0.6" text-anchor="middle" font-weight="bold" textLength="5.2" lengthAdjust="spacingAndGlyphs">250</text>
<text x="265.0" y="402.8" font-size="4" fill="#ffffff" stroke="#ffffff" stroke-width="0.6" text-anchor="middle" font-weight="bold" textLength="3.5" lengthAdjust="spacingAndGlyphs">20</text>
<text x="275.0" y="408.0" font-size="4" fill="#ffffff" stroke="#ffffff" stroke-width="0.6" text-anchor="middle" font-weight="bold" textLength="3.5" lengthAdjust="spacingAndGlyphs">60</text>
<path d="M205.5 406.0V436.0" stroke="#00ff00" stroke-width="1"/>
<path d="M210.5 406.0V436.0" stroke="#00ff00" stroke-width="1"/>
<path d="M242.5 406.0V436.0" stroke="#00ff00" stroke-width="1"/>
<path d="M247.5 406.0V436.0" stroke="#00ff00" stroke-width="1"/>
<path d="M214.5 406.0V427.0" stroke="#00ff00" stroke-width="1"/>
<path d="M238.5 406.0V427.0" stroke="#00ff00" stroke-width="1"/>
<path d="M208.4 424.5H216.0" stroke="#00ff00" stroke-width="1"/>
<path d="M237.0 424.5H245.0" stroke="#00ff00" stroke-width="1"/>
<path d="M203.0 434.5H250.0" stroke="#00ff00" stroke-width="1"/>
<text x="212.0" y="422.5" font-size="4" fill="#ffffff" stroke="#ffffff" stroke-width="0.6" text-anchor="middle" font-weight="bold" textLength="3.5" lengthAdjust="spacingAndGlyphs">20</text>
<text x="240.6" y="422.5" font-size="4" fill="#ffffff" stroke="#ffffff" stroke-width="0.6" text-anchor="middle" font-weight="bold" textLength="3.5" lengthAdjust="spacingAndGlyphs">20</text>
<text x="207.0" y="432.5" font-size="4" fill="#ffffff" stroke="#ffffff" stroke-width="0.6" text-anchor="middle" font-weight="bold" textLength="3.5" lengthAdjust="spacingAndGlyphs">60</text>
<text x="216.0" y="432.5" font-size="4" fill="#ffffff" stroke="#ffffff" stroke-width="0.6" text-anchor="middle" font-weight="bold" textLength="5.2" lengthAdjust="spacingAndGlyphs">120</text>
<text x="232.5" y="432.5" font-size="4" fill="#ffffff" stroke="#ffffff" stroke-width="0.6" text-anchor="middle" font-weight="bold" textLength="5.2" lengthAdjust="spacingAndGlyphs">120</text>
<text x="245.5" y="432.5" font-size="4" fill="#ffffff" stroke="#ffffff" stroke-width="0.6" text-anchor="middle" font-weight="bold" textLength="3.5" lengthAdjust="spacingAndGlyphs">60</text>
<circle cx="222.4" cy="443.2" r="5" stroke="#00ff00" stroke-width="1" fill="none" shape-rendering="geometricPrecision"/>
<text x="222.4" y="446.1" font-size="8" fill="#ffffff" text-anchor="middle" font-weight="normal">1</text>
<circle cx="248.4" cy="459.2" r="9" stroke="#ffffff" stroke-width="1" fill="none" shape-rendering="geometricPrecision"/>
<path d="M239.4 459.5H257.4" stroke="#ffffff" stroke-width="1"/>
<text x="247.6" y="457.6" font-size="6.5" fill="#ffffff" stroke="#ffffff" stroke-width="0.4" text-anchor="middle" font-weight="bold">3</text>
<text x="248.6" y="466.2" font-size="7" fill="#ffffff" stroke="#ffffff" stroke-width="0.4" text-anchor="middle" font-weight="bold" textLength="5.6" lengthAdjust="spacingAndGlyphs">J6</text>
<text x="258.0" y="468.8" font-size="6" fill="#ffffff" stroke="#ffffff" stroke-width="0.4" text-anchor="start" font-weight="bold" textLength="7.4" lengthAdjust="spacingAndGlyphs">1:15</text>
<rect x="328.2" y="249.0" width="37.6" height="70.5" fill="url(#dense)" stroke="none"/>
<rect x="331.2" y="252" width="31.6" height="64.5" fill="#000" stroke="none"/>
<path d="M329.2 250L332.7 250L329.2 253.5Z" fill="#000" stroke="none"/>
<path d="M364.8 250L361.3 250L364.8 253.5Z" fill="#000" stroke="none"/>
<path d="M329.2 318.5L332.7 318.5L329.2 315.0Z" fill="#000" stroke="none"/>
<path d="M364.8 318.5L361.3 318.5L364.8 315.0Z" fill="#000" stroke="none"/>
<path d="M342.5 240.0V246.0" stroke="#ff0000" stroke-width="1"/>
<path d="M342.5 249.0V276.0" stroke="#ff0000" stroke-width="1"/>
<path d="M342.5 279.0V283.0" stroke="#ff0000" stroke-width="1"/>
<path d="M342.5 286.0V313.0" stroke="#ff0000" stroke-width="1"/>
<path d="M342.5 316.0V325.0" stroke="#ff0000" stroke-width="1"/>
<path d="M331.0 272.5H338.0" stroke="#ff0000" stroke-width="1"/>
<path d="M340.0 272.5H354.0" stroke="#ff0000" stroke-width="1"/>
<path d="M366.0 272.5H378.7" stroke="#ff0000" stroke-width="1"/>
<path d="M333.7 304.5H338.0" stroke="#ff0000" stroke-width="1"/>
<path d="M340.0 304.5H358.0" stroke="#ff0000" stroke-width="1"/>
<path d="M366.0 304.5H378.7" stroke="#ff0000" stroke-width="1"/>
<rect x="331.2" y="252.0" width="31.6" height="64.5" fill="url(#conc)" stroke="none"/>
<path d="M302.0 267.5H328.5" stroke="#ffffff" stroke-width="1"/>
<path d="M302.0 275.5H328.5" stroke="#ffffff" stroke-width="1"/>
<path d="M302.0 277.5H328.5" stroke="#ffffff" stroke-width="1"/>
<path d="M302.0 283.5H324.4" stroke="#ffffff" stroke-width="1"/>
<path d="M324.5 283.0V324.0" stroke="#ffffff" stroke-width="1"/>
<path d="M324.4 323.5H369.5" stroke="#ffffff" stroke-width="1"/>
<path d="M369.5 321.2V341.5" stroke="#ffffff" stroke-width="1"/>
<path d="M369.5 321.5H378.0" stroke="#ffffff" stroke-width="1"/>
<path d="M302.5 272.5H328.0" stroke="#ff0000" stroke-width="1"/>
<path d="M342.5 328.0V330.0" stroke="#ff0000" stroke-width="1"/>
<path d="M406.5 250.0V323.0" stroke="#00ff00" stroke-width="1"/>
<path d="M395.5 250.0V257.0" stroke="#00ff00" stroke-width="1"/>
<path d="M395.5 270.7V289.5" stroke="#00ff00" stroke-width="1"/>
<path d="M395.5 311.0V323.0" stroke="#00ff00" stroke-width="1"/>
<path d="M380.0 251.5H407.5" stroke="#00ff00" stroke-width="1"/>
<path d="M380.0 255.5H397.5" stroke="#00ff00" stroke-width="1"/>
<path d="M380.0 272.5H407.5" stroke="#00ff00" stroke-width="1"/>
<path d="M380.0 280.5H397.5" stroke="#00ff00" stroke-width="1"/>
<path d="M386.0 284.5H397.5" stroke="#00ff00" stroke-width="1"/>
<path d="M380.0 288.5H397.5" stroke="#00ff00" stroke-width="1"/>
<path d="M382.0 304.5H407.5" stroke="#00ff00" stroke-width="1"/>
<path d="M380.0 313.5H397.5" stroke="#00ff00" stroke-width="1"/>
<path d="M380.0 317.5H407.5" stroke="#00ff00" stroke-width="1"/>
<path d="M382.0 322.5H407.5" stroke="#00ff00" stroke-width="1"/>
<circle cx="413.0" cy="305.5" r="5.4" stroke="#00ff00" stroke-width="1" fill="none" shape-rendering="geometricPrecision"/>
<text x="413.0" y="308.3" font-size="8" fill="#ffffff" text-anchor="middle" font-weight="normal">A</text>
<text x="391.5" y="251.0" font-size="4.5" fill="#ffffff" stroke="#ffffff" stroke-width="0.6" text-anchor="middle" font-weight="bold" textLength="3.5" lengthAdjust="spacingAndGlyphs">20</text>
<text x="402.5" y="264.5" font-size="4.5" fill="#ffffff" stroke="#ffffff" stroke-width="0.6" text-anchor="middle" font-weight="normal">G</text>
<text x="391.5" y="278.5" font-size="4.5" fill="#ffffff" stroke="#ffffff" stroke-width="0.6" text-anchor="middle" font-weight="bold" textLength="3.5" lengthAdjust="spacingAndGlyphs">60</text>
<text x="388.0" y="285.0" font-size="4.5" fill="#ffffff" stroke="#ffffff" stroke-width="0.6" text-anchor="middle" font-weight="bold" textLength="3.5" lengthAdjust="spacingAndGlyphs">20</text>
<text x="402.5" y="291.0" font-size="4.5" fill="#ffffff" stroke="#ffffff" stroke-width="0.6" text-anchor="middle" font-weight="bold" textLength="5.2" lengthAdjust="spacingAndGlyphs">250</text>
<text x="391.5" y="291.5" font-size="4.5" fill="#ffffff" stroke="#ffffff" stroke-width="0.6" text-anchor="middle" font-weight="bold" textLength="3.5" lengthAdjust="spacingAndGlyphs">20</text>
<text x="402.5" y="313.0" font-size="4.5" fill="#ffffff" stroke="#ffffff" stroke-width="0.6" text-anchor="middle" font-weight="bold" textLength="5.2" lengthAdjust="spacingAndGlyphs">120</text>
<text x="391.5" y="317.5" font-size="4.5" fill="#ffffff" stroke="#ffffff" stroke-width="0.6" text-anchor="middle" font-weight="bold" textLength="3.5" lengthAdjust="spacingAndGlyphs">20</text>
<text x="402.5" y="321.0" font-size="4.5" fill="#ffffff" stroke="#ffffff" stroke-width="0.6" text-anchor="middle" font-weight="bold" textLength="3.5" lengthAdjust="spacingAndGlyphs">60</text>
<path d="M325.5 331.0V354.0" stroke="#00ff00" stroke-width="1"/>
<path d="M330.5 328.0V354.0" stroke="#00ff00" stroke-width="1"/>
<path d="M334.5 328.0V341.5" stroke="#00ff00" stroke-width="1"/>
<path d="M342.5 332.0V354.5" stroke="#00ff00" stroke-width="1"/>
<path d="M359.5 328.0V341.5" stroke="#00ff00" stroke-width="1"/>
<path d="M363.5 328.0V354.0" stroke="#00ff00" stroke-width="1"/>
<path d="M368.5 331.0V354.0" stroke="#00ff00" stroke-width="1"/>
<path d="M323.2 351.5H370.5" stroke="#00ff00" stroke-width="1"/>
<path d="M330.0 339.5H336.2" stroke="#00ff00" stroke-width="1"/>
<path d="M357.5 339.5H365.0" stroke="#00ff00" stroke-width="1"/>
<text x="337.0" y="338.0" font-size="4" fill="#ffffff" stroke="#ffffff" stroke-width="0.6" text-anchor="middle" font-weight="bold" textLength="3.5" lengthAdjust="spacingAndGlyphs">20</text>
<text x="356.0" y="338.0" font-size="4" fill="#ffffff" stroke="#ffffff" stroke-width="0.6" text-anchor="middle" font-weight="bold" textLength="3.5" lengthAdjust="spacingAndGlyphs">20</text>
<text x="328.0" y="350.0" font-size="4" fill="#ffffff" stroke="#ffffff" stroke-width="0.6" text-anchor="middle" font-weight="bold" textLength="3.5" lengthAdjust="spacingAndGlyphs">60</text>
<text x="336.5" y="350.0" font-size="4" fill="#ffffff" stroke="#ffffff" stroke-width="0.6" text-anchor="middle" font-weight="bold" textLength="5.2" lengthAdjust="spacingAndGlyphs">120</text>
<text x="352.5" y="350.0" font-size="4" fill="#ffffff" stroke="#ffffff" stroke-width="0.6" text-anchor="middle" font-weight="bold" textLength="5.2" lengthAdjust="spacingAndGlyphs">250</text>
<text x="366.0" y="350.0" font-size="4" fill="#ffffff" stroke="#ffffff" stroke-width="0.6" text-anchor="middle" font-weight="bold" textLength="3.5" lengthAdjust="spacingAndGlyphs">60</text>
<circle cx="341.8" cy="382.5" r="9" stroke="#ffffff" stroke-width="1" fill="none" shape-rendering="geometricPrecision"/>
<path d="M332.8 382.5H350.8" stroke="#ffffff" stroke-width="1"/>
<text x="341.0" y="380.9" font-size="6.5" fill="#ffffff" stroke="#ffffff" stroke-width="0.4" text-anchor="middle" font-weight="bold">5</text>
<text x="342.0" y="389.5" font-size="7" fill="#ffffff" stroke="#ffffff" stroke-width="0.4" text-anchor="middle" font-weight="bold" textLength="5.6" lengthAdjust="spacingAndGlyphs">J6</text>
<text x="351.5" y="390.5" font-size="6" fill="#ffffff" stroke="#ffffff" stroke-width="0.4" text-anchor="start" font-weight="bold" textLength="7.4" lengthAdjust="spacingAndGlyphs">1:15</text>
<path d="M460.5 228.0V305.5" stroke="#00ff00" stroke-width="1"/>
<path d="M464.5 228.0V289.5" stroke="#00ff00" stroke-width="1"/>
<path d="M460.5 289.5H464.5" stroke="#00ff00" stroke-width="1"/>
<path d="M489.5 227.0V289.5" stroke="#00ff00" stroke-width="1"/>
<path d="M493.5 228.0V305.5" stroke="#00ff00" stroke-width="1"/>
<path d="M489.5 289.5H493.2" stroke="#00ff00" stroke-width="1"/>
<rect x="455.5" y="305.5" width="43.0" height="32.5" stroke="#00ff00" stroke-width="1" fill="none"/>
<path d="M493.2 243.5H517.5" stroke="#00ff00" stroke-width="1"/>
<path d="M493.2 245.5H517.5" stroke="#00ff00" stroke-width="1"/>
<path d="M493.2 297.5H517.5" stroke="#00ff00" stroke-width="1"/>
<path d="M498.2 305.5H517.5" stroke="#00ff00" stroke-width="1"/>
<path d="M498.8 313.5H517.5" stroke="#00ff00" stroke-width="1"/>
<path d="M498.8 315.5H517.5" stroke="#00ff00" stroke-width="1"/>
<path d="M431.5 288.0V338.7" stroke="#00ff00" stroke-width="1"/>
<path d="M429.0 289.5H450.0" stroke="#00ff00" stroke-width="1"/>
<path d="M428.0 305.5H450.0" stroke="#00ff00" stroke-width="1"/>
<text x="430.0" y="298.0" font-size="4.5" fill="#ffffff" stroke="#ffffff" stroke-width="0.6" text-anchor="middle" font-weight="bold" textLength="3.5" lengthAdjust="spacingAndGlyphs" transform="rotate(-90 430.0 298.0)">60</text>
<text x="430.0" y="323.0" font-size="4.5" fill="#ffffff" stroke="#ffffff" stroke-width="0.6" text-anchor="middle" font-weight="bold" textLength="5.2" lengthAdjust="spacingAndGlyphs" transform="rotate(-90 430.0 323.0)">120</text>
<path d="M428.7 338.5H525.0" stroke="#ffffff" stroke-width="1"/>
<path d="M502.0 335.5H520.0" stroke="#00ff00" stroke-width="1"/>
<path d="M502.5 335.5L508.5 335.5L505.5 338.5Z" stroke="#00ff00" stroke-width="1" fill="none"/>
<text x="515.0" y="333.5" font-size="5" fill="#00ff00" stroke="#00ff00" stroke-width="0.6" text-anchor="middle" font-weight="bold" textLength="10.5" lengthAdjust="spacingAndGlyphs">-0.450</text>
<path d="M455.5 348.0V375.5" stroke="#00ff00" stroke-width="1"/>
<path d="M460.5 348.0V375.5" stroke="#00ff00" stroke-width="1"/>
<path d="M493.5 348.0V375.5" stroke="#00ff00" stroke-width="1"/>
<path d="M498.5 348.0V375.5" stroke="#00ff00" stroke-width="1"/>
<path d="M454.2 373.5H499.5" stroke="#00ff00" stroke-width="1"/>
<text x="448.0" y="371.5" font-size="4.5" fill="#ffffff" stroke="#ffffff" stroke-width="0.6" text-anchor="middle" font-weight="bold" textLength="3.5" lengthAdjust="spacingAndGlyphs">60</text>
<text x="476.3" y="371.5" font-size="4.5" fill="#ffffff" stroke="#ffffff" stroke-width="0.6" text-anchor="middle" font-weight="bold" textLength="5.2" lengthAdjust="spacingAndGlyphs">180</text>
<text x="505.0" y="371.5" font-size="4.5" fill="#ffffff" stroke="#ffffff" stroke-width="0.6" text-anchor="middle" font-weight="bold" textLength="3.5" lengthAdjust="spacingAndGlyphs">60</text>
<circle cx="467.0" cy="406.8" r="9" stroke="#ffffff" stroke-width="1" fill="none" shape-rendering="geometricPrecision"/>
<path d="M458.0 406.5H476.0" stroke="#ffffff" stroke-width="1"/>
<text x="466.2" y="405.2" font-size="6.5" fill="#ffffff" stroke="#ffffff" stroke-width="0.4" text-anchor="middle" font-weight="bold">2</text>
<text x="467.2" y="413.8" font-size="7" fill="#ffffff" stroke="#ffffff" stroke-width="0.4" text-anchor="middle" font-weight="bold" textLength="5.6" lengthAdjust="spacingAndGlyphs">J6</text>
<text x="479.5" y="416.0" font-size="6" fill="#ffffff" stroke="#ffffff" stroke-width="0.4" text-anchor="start" font-weight="bold" textLength="7.4" lengthAdjust="spacingAndGlyphs">1:15</text>
<path d="M613.5 221.5H624.0" stroke="#00ff00" stroke-width="1"/>
<path d="M615.5 220.5V233.7" stroke="#00ff00" stroke-width="1"/>
<path d="M621.5 220.5V233.7" stroke="#00ff00" stroke-width="1"/>
<text x="609.5" y="221.0" font-size="4" fill="#ffffff" stroke="#ffffff" stroke-width="0.6" text-anchor="middle" font-weight="normal">0</text>
<text x="628.0" y="221.0" font-size="4" fill="#ffffff" stroke="#ffffff" stroke-width="0.6" text-anchor="middle" font-weight="normal">0</text>
<text x="618.5" y="228.5" font-size="4" fill="#ffffff" stroke="#ffffff" stroke-width="0.6" text-anchor="middle" font-weight="bold" textLength="3.5" lengthAdjust="spacingAndGlyphs">60</text>
<rect x="615.5" y="236.5" width="6.0" height="7.0" stroke="#ffffff" stroke-width="1" fill="none"/>
<path d="M621.8 239.5H667.2" stroke="#ffffff" stroke-width="1"/>
<text x="632.0" y="237.5" font-size="5.5" fill="#ffffff" stroke="#ffffff" stroke-width="0.4" text-anchor="start" font-weight="normal">2厚钢筋砼</text>
<path d="M616.5 243.2V296.2" stroke="#ffffff" stroke-width="1"/>
<path d="M620.5 243.2V296.2" stroke="#ffffff" stroke-width="1"/>
<path d="M618.5 241.0V262.0" stroke="#ff0000" stroke-width="1"/>
<path d="M618.5 264.0V266.0" stroke="#ff0000" stroke-width="1"/>
<path d="M618.5 268.0V292.0" stroke="#ff0000" stroke-width="1"/>
<path d="M618.5 294.0V296.0" stroke="#ff0000" stroke-width="1"/>
<path d="M618.5 298.0V322.0" stroke="#ff0000" stroke-width="1"/>
<path d="M618.5 324.0V326.0" stroke="#ff0000" stroke-width="1"/>
<path d="M618.5 328.0V352.0" stroke="#ff0000" stroke-width="1"/>
<path d="M618.5 354.0V356.0" stroke="#ff0000" stroke-width="1"/>
<path d="M618.5 358.0V365.0" stroke="#ff0000" stroke-width="1"/>
<text x="625.0" y="256.0" font-size="5.5" fill="#ffffff" stroke="#ffffff" stroke-width="0.4" text-anchor="start" font-weight="normal">□60×60钢砼@50</text>
<path d="M625.0 257.5H664.7" stroke="#ffffff" stroke-width="1"/>
<text x="630.0" y="265.0" font-size="5.5" fill="#ffffff" stroke="#ffffff" stroke-width="0.4" text-anchor="start" font-weight="normal">现2</text>
<path d="M608.5 275.5V295.0" stroke="#00ff00" stroke-width="1"/>
<path d="M611.5 275.5V295.0" stroke="#00ff00" stroke-width="1"/>
<path d="M614.5 275.5V295.0" stroke="#00ff00" stroke-width="1"/>
<path d="M621.5 275.5V295.0" stroke="#00ff00" stroke-width="1"/>
<path d="M624.5 275.5V295.0" stroke="#00ff00" stroke-width="1"/>
<path d="M605.5 276.5H624.7" stroke="#00ff00" stroke-width="1"/>
<text x="604.0" y="274.3" font-size="4" fill="#ffffff" stroke="#ffffff" stroke-width="0.6" text-anchor="middle" font-weight="bold" textLength="3.5" lengthAdjust="spacingAndGlyphs">30</text>
<text x="611.0" y="274.3" font-size="4" fill="#ffffff" stroke="#ffffff" stroke-width="0.6" text-anchor="middle" font-weight="bold" textLength="3.5" lengthAdjust="spacingAndGlyphs">10</text>
<text x="630.5" y="274.0" font-size="4" fill="#ffffff" stroke="#ffffff" stroke-width="0.6" text-anchor="middle" font-weight="bold" textLength="3.5" lengthAdjust="spacingAndGlyphs">60</text>
<path d="M622.2 293.7L627.2 285.5L683.0 285.5" stroke="#ffffff" stroke-width="1" fill="none"/>
<text x="631.0" y="284.3" font-size="5.5" fill="#ffffff" stroke="#ffffff" stroke-width="0.4" text-anchor="start" font-weight="normal">T1-61-6钢栏杆</text>
<text x="631.0" y="295.0" font-size="5.5" fill="#ffffff" stroke="#ffffff" stroke-width="0.4" text-anchor="start" font-weight="normal">栏杆 0.5-70.钢90</text>
<rect x="611.8" y="296.8" width="13.0" height="8.0" stroke="#ffffff" stroke-width="1.6" fill="none"/>
<rect x="613.0" y="298.0" width="11.0" height="6.0" fill="url(#dots)" stroke="none"/>
<rect x="613.5" y="298.0" width="10.0" height="6.0" fill="url(#dots)" stroke="none"/>
<rect x="606.5" y="304.0" width="61.5" height="3.4" fill="url(#dense)" stroke="none"/>
<rect x="610.0" y="307.4" width="58.0" height="3.6" fill="url(#dots)" stroke="none"/>
<rect x="611.0" y="307.4" width="57.0" height="3.6" fill="url(#dots)" stroke="none"/>
<rect x="606.5" y="311.0" width="61.5" height="2.0" fill="url(#dense)" stroke="none"/>
<rect x="606.5" y="304.0" width="3.5" height="9.0" fill="url(#dense)" stroke="none"/>
<rect x="633.5" y="313.5" width="34.0" height="3.6" fill="url(#dots)" stroke="none"/>
<rect x="635.0" y="313.5" width="32.0" height="3.6" fill="url(#dots)" stroke="none"/>
<path d="M633.5 317.5H668.0" stroke="#ffffff" stroke-width="1"/>
<rect x="635.0" y="318.5" width="32.0" height="3.6" fill="url(#earth)" stroke="none"/>
<path d="M614.3 314.3L615.6 313.0M614.3 324.7L626.0 313.0M614.3 335.1L633.5 315.9M614.3 345.5L633.5 326.3M614.3 355.9L633.5 336.7M614.3 366.3L633.5 347.1M617.6 373.4L633.5 357.5M628.0 373.4L633.5 367.9" stroke="#fff" stroke-width="1.2" fill="none"/>
<path d="M613.5 313.0V373.4" stroke="#ffffff" stroke-width="1"/>
<path d="M633.5 313.0V373.4" stroke="#ffffff" stroke-width="1"/>
<rect x="610.0" y="313.0" width="3.6" height="33.0" fill="url(#dense)" stroke="none"/>
<path d="M610.0 359.8L622.0 359.8L623.0 357.3L624.5 362.3L625.5 359.8L636.0 359.8" stroke="#ffffff" stroke-width="1" fill="none"/>
<rect x="608.5" y="373.5" width="30.5" height="10.0" stroke="#ffffff" stroke-width="1" fill="none"/>
<path d="M609.0 382.0L617.0 374.0M617.9 383.5L627.4 374.0M628.3 383.5L637.8 374.0" stroke="#fff" stroke-width="1.2" fill="none"/>
<rect x="609.0" y="384.5" width="30.0" height="3.2" fill="url(#earth)" stroke="none"/>
<path d="M560.0 342.5H602.0" stroke="#00ff00" stroke-width="1"/>
<path d="M560.0 344H613.4" stroke="#ffffff" stroke-width="2"/>
<rect x="560.0" y="346.0" width="53.0" height="2.4" fill="url(#dots)" stroke="none"/>
<rect x="561.0" y="346.0" width="52.0" height="2.4" fill="url(#dots)" stroke="none"/>
<rect x="562.5" y="346.0" width="50.0" height="2.4" fill="url(#dots)" stroke="none"/>
<path d="M560.0 349.5H613.0" stroke="#ffffff" stroke-width="1"/>
<rect x="561.0" y="350.3" width="52.0" height="4.0" fill="url(#earth)" stroke="none"/>
<path d="M562.5 235.0V343.0" stroke="#00ff00" stroke-width="1"/>
<path d="M559.7 236.5H601.0" stroke="#00ff00" stroke-width="1"/>
<path d="M570.5 241.5H601.0" stroke="#00ff00" stroke-width="1"/>
<path d="M570.5 244.5H601.0" stroke="#00ff00" stroke-width="1"/>
<path d="M572.5 235.0V245.0" stroke="#00ff00" stroke-width="1"/>
<text x="568.2" y="232.0" font-size="4" fill="#ffffff" stroke="#ffffff" stroke-width="0.6" text-anchor="middle" font-weight="normal">N</text>
<text x="568.5" y="252.5" font-size="4" fill="#ffffff" stroke="#ffffff" stroke-width="0.6" text-anchor="middle" font-weight="normal">N</text>
<text x="559.5" y="271.0" font-size="4.5" fill="#ffffff" stroke="#ffffff" stroke-width="0.6" text-anchor="middle" font-weight="bold" textLength="5.2" lengthAdjust="spacingAndGlyphs" transform="rotate(-90 559.5 271.0)">900</text>
<path d="M537.5 301.5H557.5" stroke="#00ff00" stroke-width="1"/>
<path d="M551.0 301.5L557.0 301.5L554.0 304.5Z" stroke="#00ff00" stroke-width="1" fill="none"/>
<text x="546.3" y="298.6" font-size="5" fill="#00ff00" stroke="#00ff00" stroke-width="0.6" text-anchor="middle" font-weight="bold" textLength="10.5" lengthAdjust="spacingAndGlyphs">±0.000</text>
<path d="M547.0 304.5H560.0" stroke="#ffffff" stroke-width="1"/>
<path d="M570.5 296.5H599.2" stroke="#00ff00" stroke-width="1"/>
<path d="M560.0 304.5H599.2" stroke="#00ff00" stroke-width="1"/>
<path d="M570.5 310.5H599.2" stroke="#00ff00" stroke-width="1"/>
<path d="M570.5 313.5H599.2" stroke="#00ff00" stroke-width="1"/>
<path d="M572.5 293.7V315.0" stroke="#00ff00" stroke-width="1"/>
<text x="568.5" y="300.7" font-size="4" fill="#ffffff" stroke="#ffffff" stroke-width="0.6" text-anchor="middle" font-weight="bold" textLength="3.5" lengthAdjust="spacingAndGlyphs">60</text>
<text x="568.5" y="309.5" font-size="4" fill="#ffffff" stroke="#ffffff" stroke-width="0.6" text-anchor="middle" font-weight="bold" textLength="3.5" lengthAdjust="spacingAndGlyphs">60</text>
<text x="576.5" y="306.8" font-size="4" fill="#ffffff" stroke="#ffffff" stroke-width="0.6" text-anchor="middle" font-weight="bold" textLength="3.5" lengthAdjust="spacingAndGlyphs">20</text>
<text x="568.5" y="321.3" font-size="4" fill="#ffffff" stroke="#ffffff" stroke-width="0.6" text-anchor="middle" font-weight="normal">N</text>
<text x="559.5" y="324.5" font-size="4.5" fill="#ffffff" stroke="#ffffff" stroke-width="0.6" text-anchor="middle" font-weight="bold" textLength="5.2" lengthAdjust="spacingAndGlyphs" transform="rotate(-90 559.5 324.5)">450</text>
<path d="M574.3 339.5H594.8" stroke="#00ff00" stroke-width="1"/>
<path d="M574.5 339.5L580.5 339.5L577.5 342.5Z" stroke="#00ff00" stroke-width="1" fill="none"/>
<text x="586.2" y="337.6" font-size="5" fill="#00ff00" stroke="#00ff00" stroke-width="0.6" text-anchor="middle" font-weight="bold" textLength="10.5" lengthAdjust="spacingAndGlyphs">-0.450</text>
<path d="M640.5 373.5H664.7" stroke="#00ff00" stroke-width="1"/>
<path d="M640.5 383.5H664.7" stroke="#00ff00" stroke-width="1"/>
<path d="M662.5 372.0V385.0" stroke="#00ff00" stroke-width="1"/>
<text x="659.0" y="381.0" font-size="4.5" fill="#ffffff" stroke="#ffffff" stroke-width="0.6" text-anchor="middle" font-weight="bold" textLength="5.2" lengthAdjust="spacingAndGlyphs" transform="rotate(-90 659.0 381.0)">120</text>
<path d="M666.0 383.5H683.0" stroke="#ffffff" stroke-width="1"/>
<path d="M668.0 379.5H689.0" stroke="#00ff00" stroke-width="1"/>
<path d="M668.0 380.0L674.0 380.0L671.0 383.0Z" stroke="#00ff00" stroke-width="1" fill="none"/>
<text x="680.0" y="377.7" font-size="5" fill="#00ff00" stroke="#00ff00" stroke-width="0.6" text-anchor="middle" font-weight="bold" textLength="10.5" lengthAdjust="spacingAndGlyphs">-1.500</text>
<path d="M608.5 394.2V413.0" stroke="#00ff00" stroke-width="1"/>
<path d="M613.5 394.2V413.0" stroke="#00ff00" stroke-width="1"/>
<path d="M618.5 394.2V413.0" stroke="#00ff00" stroke-width="1"/>
<path d="M633.5 394.2V413.0" stroke="#00ff00" stroke-width="1"/>
<path d="M638.5 394.2V413.0" stroke="#00ff00" stroke-width="1"/>
<path d="M606.5 410.5H639.7" stroke="#00ff00" stroke-width="1"/>
<text x="604.5" y="408.8" font-size="4" fill="#ffffff" stroke="#ffffff" stroke-width="0.6" text-anchor="middle" font-weight="bold" textLength="3.5" lengthAdjust="spacingAndGlyphs">60</text>
<text x="615.5" y="408.8" font-size="4" fill="#ffffff" stroke="#ffffff" stroke-width="0.6" text-anchor="middle" font-weight="bold" textLength="5.2" lengthAdjust="spacingAndGlyphs">120</text>
<text x="625.5" y="408.8" font-size="4" fill="#ffffff" stroke="#ffffff" stroke-width="0.6" text-anchor="middle" font-weight="bold" textLength="5.2" lengthAdjust="spacingAndGlyphs">120</text>
<text x="635.5" y="408.8" font-size="4" fill="#ffffff" stroke="#ffffff" stroke-width="0.6" text-anchor="middle" font-weight="bold" textLength="3.5" lengthAdjust="spacingAndGlyphs">60</text>
<circle cx="618.5" cy="418.3" r="5.2" stroke="#00ff00" stroke-width="1" fill="none" shape-rendering="geometricPrecision"/>
<circle cx="561.0" cy="402.0" r="9" stroke="#ffffff" stroke-width="1" fill="none" shape-rendering="geometricPrecision"/>
<path d="M552.0 402.5H570.0" stroke="#ffffff" stroke-width="1"/>
<text x="560.2" y="400.4" font-size="6.5" fill="#ffffff" stroke="#ffffff" stroke-width="0.4" text-anchor="middle" font-weight="bold">1</text>
<text x="561.2" y="409.0" font-size="7" fill="#ffffff" stroke="#ffffff" stroke-width="0.4" text-anchor="middle" font-weight="bold" textLength="5.6" lengthAdjust="spacingAndGlyphs">J6</text>
<text x="573.0" y="412.0" font-size="6" fill="#ffffff" stroke="#ffffff" stroke-width="0.4" text-anchor="start" font-weight="bold" textLength="7.4" lengthAdjust="spacingAndGlyphs">1:15</text>
</svg></body></html>
